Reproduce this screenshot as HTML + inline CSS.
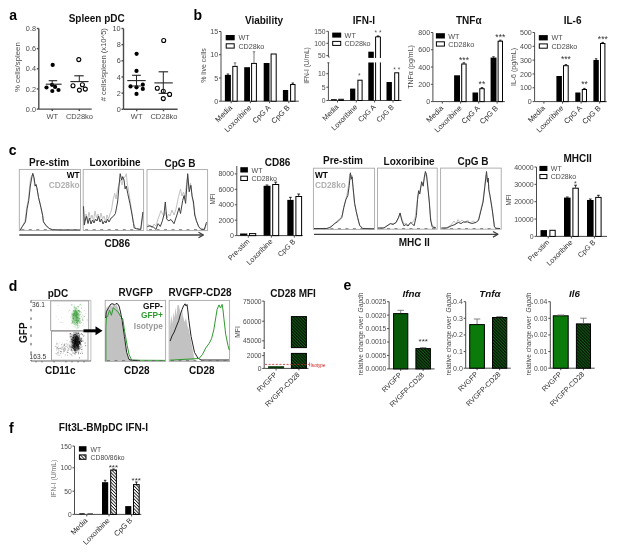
<!DOCTYPE html>
<html><head><meta charset="utf-8"><title>Figure</title>
<style>html,body{margin:0;padding:0;background:#fff;width:619px;height:553px;overflow:hidden}
svg{display:block;filter:blur(0.35px);font-family:"Liberation Sans",sans-serif}</style></head>
<body><svg width="619" height="553" viewBox="0 0 619 553" font-family="Liberation Sans, sans-serif"><defs>
<pattern id="hb" patternUnits="userSpaceOnUse" width="4" height="2.3" patternTransform="rotate(45)">
<rect width="4" height="2.3" fill="#fff"/><rect width="4" height="0.85" fill="#111"/></pattern>
<pattern id="hg" patternUnits="userSpaceOnUse" width="4" height="2.2" patternTransform="rotate(45)">
<rect width="4" height="2.2" fill="#031203"/><rect width="4" height="1.0" fill="#145e16"/></pattern>
<radialGradient id="rgG"><stop offset="0" stop-color="#2a8a2a" stop-opacity="0.6"/><stop offset="0.6" stop-color="#4aa04a" stop-opacity="0.3"/><stop offset="1" stop-color="#5a5" stop-opacity="0"/></radialGradient>
<radialGradient id="rgK"><stop offset="0" stop-color="#000" stop-opacity="0.85"/><stop offset="0.6" stop-color="#222" stop-opacity="0.4"/><stop offset="1" stop-color="#555" stop-opacity="0"/></radialGradient>
</defs><rect width="619" height="553" fill="#fff"/>
<text x="9.2" y="19.9" font-size="14.0" text-anchor="start" font-weight="bold" fill="#000" >a</text>
<text x="193.6" y="20.2" font-size="14.0" text-anchor="start" font-weight="bold" fill="#000" >b</text>
<text x="8.8" y="155" font-size="14.0" text-anchor="start" font-weight="bold" fill="#000" >c</text>
<text x="8.8" y="290.9" font-size="14.0" text-anchor="start" font-weight="bold" fill="#000" >d</text>
<text x="343.4" y="290.3" font-size="14.0" text-anchor="start" font-weight="bold" fill="#000" >e</text>
<text x="9" y="432.5" font-size="14.0" text-anchor="start" font-weight="bold" fill="#000" >f</text>
<text x="96.7" y="21.5" font-size="10" text-anchor="middle" font-weight="bold" fill="#111" >Spleen pDC</text>
<line x1="38.8" y1="28.5" x2="38.8" y2="109.1" stroke="#4a4a4a" stroke-width="1.4" />
<line x1="36.8" y1="109.1" x2="38.8" y2="109.1" stroke="#4a4a4a" stroke-width="1.4" />
<text x="36" y="111.73" font-size="7.3" text-anchor="end" font-weight="normal" fill="#4a4a4a" >0.0</text>
<line x1="36.8" y1="88.95" x2="38.8" y2="88.95" stroke="#4a4a4a" stroke-width="1.4" />
<text x="36" y="91.58" font-size="7.3" text-anchor="end" font-weight="normal" fill="#4a4a4a" >0.2</text>
<line x1="36.8" y1="68.8" x2="38.8" y2="68.8" stroke="#4a4a4a" stroke-width="1.4" />
<text x="36" y="71.43" font-size="7.3" text-anchor="end" font-weight="normal" fill="#4a4a4a" >0.4</text>
<line x1="36.8" y1="48.65" x2="38.8" y2="48.65" stroke="#4a4a4a" stroke-width="1.4" />
<text x="36" y="51.28" font-size="7.3" text-anchor="end" font-weight="normal" fill="#4a4a4a" >0.6</text>
<line x1="36.8" y1="28.5" x2="38.8" y2="28.5" stroke="#4a4a4a" stroke-width="1.4" />
<text x="36" y="31.13" font-size="7.3" text-anchor="end" font-weight="normal" fill="#4a4a4a" >0.8</text>
<line x1="38.8" y1="109.1" x2="91.7" y2="109.1" stroke="#4a4a4a" stroke-width="1.4" />
<line x1="52.3" y1="109.1" x2="52.3" y2="111.1" stroke="#4a4a4a" stroke-width="1.4" />
<line x1="79.3" y1="109.1" x2="79.3" y2="111.1" stroke="#4a4a4a" stroke-width="1.4" />
<text x="52.3" y="118.5" font-size="7.5" text-anchor="middle" font-weight="normal" fill="#4a4a4a" >WT</text>
<text x="79.5" y="118.5" font-size="7.5" text-anchor="middle" font-weight="normal" fill="#4a4a4a" >CD28ko</text>
<text x="19.9" y="67.2" font-size="7.8" text-anchor="middle" font-weight="normal" fill="#4a4a4a" transform="rotate(-90 19.9 67.2)" >% cells/spleen</text>
<circle cx="52.7" cy="64.9" r="2.1" fill="#000"/>
<circle cx="46.5" cy="87.5" r="2.1" fill="#000"/>
<circle cx="52.3" cy="91" r="2.1" fill="#000"/>
<circle cx="58.5" cy="90" r="2.1" fill="#000"/>
<circle cx="55.1" cy="86.9" r="2.1" fill="#000"/>
<circle cx="52" cy="84.8" r="2.1" fill="#000"/>
<circle cx="78.8" cy="59.6" r="2.0" fill="#fff" stroke="#000" stroke-width="1.1"/>
<circle cx="73" cy="85.8" r="2.0" fill="#fff" stroke="#000" stroke-width="1.1"/>
<circle cx="82.4" cy="84.8" r="2.0" fill="#fff" stroke="#000" stroke-width="1.1"/>
<circle cx="79.4" cy="90.1" r="2.0" fill="#fff" stroke="#000" stroke-width="1.1"/>
<circle cx="85.3" cy="89.1" r="2.0" fill="#fff" stroke="#000" stroke-width="1.1"/>
<line x1="45.8" y1="84.2" x2="61.6" y2="84.2" stroke="#222" stroke-width="1.1" />
<line x1="52.2" y1="84.2" x2="52.2" y2="80.7" stroke="#222" stroke-width="1" />
<line x1="48.7" y1="80.7" x2="57.2" y2="80.7" stroke="#222" stroke-width="1.1" />
<line x1="70.4" y1="81.6" x2="88.5" y2="81.6" stroke="#222" stroke-width="1.1" />
<line x1="79.3" y1="81.6" x2="79.3" y2="75.8" stroke="#222" stroke-width="1" />
<line x1="74.3" y1="75.8" x2="83.7" y2="75.8" stroke="#222" stroke-width="1.1" />
<line x1="123.5" y1="28.5" x2="123.5" y2="109.3" stroke="#4a4a4a" stroke-width="1.4" />
<line x1="121.5" y1="109.3" x2="123.5" y2="109.3" stroke="#4a4a4a" stroke-width="1.4" />
<text x="120.7" y="111.93" font-size="7.3" text-anchor="end" font-weight="normal" fill="#4a4a4a" >0</text>
<line x1="121.5" y1="93.14" x2="123.5" y2="93.14" stroke="#4a4a4a" stroke-width="1.4" />
<text x="120.7" y="95.77" font-size="7.3" text-anchor="end" font-weight="normal" fill="#4a4a4a" >2</text>
<line x1="121.5" y1="76.98" x2="123.5" y2="76.98" stroke="#4a4a4a" stroke-width="1.4" />
<text x="120.7" y="79.61" font-size="7.3" text-anchor="end" font-weight="normal" fill="#4a4a4a" >4</text>
<line x1="121.5" y1="60.82" x2="123.5" y2="60.82" stroke="#4a4a4a" stroke-width="1.4" />
<text x="120.7" y="63.45" font-size="7.3" text-anchor="end" font-weight="normal" fill="#4a4a4a" >6</text>
<line x1="121.5" y1="44.66" x2="123.5" y2="44.66" stroke="#4a4a4a" stroke-width="1.4" />
<text x="120.7" y="47.29" font-size="7.3" text-anchor="end" font-weight="normal" fill="#4a4a4a" >8</text>
<line x1="121.5" y1="28.5" x2="123.5" y2="28.5" stroke="#4a4a4a" stroke-width="1.4" />
<text x="120.7" y="31.13" font-size="7.3" text-anchor="end" font-weight="normal" fill="#4a4a4a" >10</text>
<line x1="123.5" y1="109.3" x2="177.6" y2="109.3" stroke="#4a4a4a" stroke-width="1.4" />
<line x1="136.7" y1="109.3" x2="136.7" y2="111.3" stroke="#4a4a4a" stroke-width="1.4" />
<line x1="163.5" y1="109.3" x2="163.5" y2="111.3" stroke="#4a4a4a" stroke-width="1.4" />
<text x="136.7" y="118.5" font-size="7.5" text-anchor="middle" font-weight="normal" fill="#4a4a4a" >WT</text>
<text x="164" y="118.5" font-size="7.5" text-anchor="middle" font-weight="normal" fill="#4a4a4a" >CD28ko</text>
<text x="105.6" y="64.7" font-size="7.6" text-anchor="middle" font-weight="normal" fill="#4a4a4a" transform="rotate(-90 105.6 64.7)" ># cells/spleen (x10^5)</text>
<circle cx="136.6" cy="53.8" r="2.1" fill="#000"/>
<circle cx="136.5" cy="70.9" r="2.1" fill="#000"/>
<circle cx="130.5" cy="86.4" r="2.1" fill="#000"/>
<circle cx="136.5" cy="87.3" r="2.1" fill="#000"/>
<circle cx="142.8" cy="84.7" r="2.1" fill="#000"/>
<circle cx="142.8" cy="88.9" r="2.1" fill="#000"/>
<circle cx="136.5" cy="93.9" r="2.1" fill="#000"/>
<circle cx="163.7" cy="40.5" r="2.0" fill="#fff" stroke="#000" stroke-width="1.1"/>
<circle cx="157.3" cy="88.3" r="2.0" fill="#fff" stroke="#000" stroke-width="1.1"/>
<circle cx="163.3" cy="91.2" r="2.0" fill="#fff" stroke="#000" stroke-width="1.1"/>
<circle cx="169.6" cy="94.4" r="2.0" fill="#fff" stroke="#000" stroke-width="1.1"/>
<circle cx="163.3" cy="98.6" r="2.0" fill="#fff" stroke="#000" stroke-width="1.1"/>
<line x1="127.3" y1="80.6" x2="145.7" y2="80.6" stroke="#222" stroke-width="1.1" />
<line x1="136.5" y1="80.6" x2="136.5" y2="75.3" stroke="#222" stroke-width="1" />
<line x1="132.1" y1="75.3" x2="140.8" y2="75.3" stroke="#222" stroke-width="1.1" />
<line x1="136.5" y1="80.6" x2="136.5" y2="86" stroke="#222" stroke-width="1" />
<line x1="132.1" y1="86" x2="140.8" y2="86" stroke="#222" stroke-width="1.0" />
<line x1="154.4" y1="82.9" x2="172.8" y2="82.9" stroke="#222" stroke-width="1.1" />
<line x1="163.3" y1="71.8" x2="163.3" y2="93.4" stroke="#222" stroke-width="1" />
<line x1="158.6" y1="71.8" x2="168.1" y2="71.8" stroke="#222" stroke-width="1.1" />
<line x1="158.6" y1="93.4" x2="168.1" y2="93.4" stroke="#222" stroke-width="1.0" />
<line x1="221" y1="31.5" x2="221" y2="101.2" stroke="#4a4a4a" stroke-width="1.0" />
<line x1="219" y1="101.2" x2="221" y2="101.2" stroke="#4a4a4a" stroke-width="1.0" />
<text x="218.2" y="103.79" font-size="7.2" text-anchor="end" font-weight="normal" fill="#4a4a4a" >0</text>
<line x1="219" y1="77.97" x2="221" y2="77.97" stroke="#4a4a4a" stroke-width="1.0" />
<text x="218.2" y="80.56" font-size="7.2" text-anchor="end" font-weight="normal" fill="#4a4a4a" >5</text>
<line x1="219" y1="54.73" x2="221" y2="54.73" stroke="#4a4a4a" stroke-width="1.0" />
<text x="218.2" y="57.33" font-size="7.2" text-anchor="end" font-weight="normal" fill="#4a4a4a" >10</text>
<line x1="219" y1="31.5" x2="221" y2="31.5" stroke="#4a4a4a" stroke-width="1.0" />
<text x="218.2" y="34.09" font-size="7.2" text-anchor="end" font-weight="normal" fill="#4a4a4a" >15</text>
<line x1="221" y1="101.2" x2="298.8" y2="101.2" stroke="#4a4a4a" stroke-width="1.0" />
<line x1="231.2" y1="101.2" x2="231.2" y2="103.2" stroke="#4a4a4a" stroke-width="1.0" />
<line x1="250.4" y1="101.2" x2="250.4" y2="103.2" stroke="#4a4a4a" stroke-width="1.0" />
<line x1="269.6" y1="101.2" x2="269.6" y2="103.2" stroke="#4a4a4a" stroke-width="1.0" />
<line x1="288.8" y1="101.2" x2="288.8" y2="103.2" stroke="#4a4a4a" stroke-width="1.0" />
<rect x="224.9" y="74.9" width="6" height="26.3" fill="#000" stroke="none" stroke-width="1.0" />
<rect x="232.8" y="66.4" width="4.4" height="34.8" fill="#fff" stroke="#000" stroke-width="1.0" />
<rect x="244.2" y="67.2" width="5.8" height="34" fill="#000" stroke="none" stroke-width="1.0" />
<rect x="251.6" y="63.4" width="4.8" height="37.8" fill="#fff" stroke="#000" stroke-width="1.0" />
<rect x="263.7" y="63" width="5.8" height="38.2" fill="#000" stroke="none" stroke-width="1.0" />
<rect x="271.1" y="54" width="5.1" height="47.2" fill="#fff" stroke="#000" stroke-width="1.0" />
<rect x="282.9" y="90" width="5.3" height="11.2" fill="#000" stroke="none" stroke-width="1.0" />
<rect x="290.6" y="84.5" width="4.4" height="16.7" fill="#fff" stroke="#000" stroke-width="1.0" />
<line x1="227.9" y1="74.9" x2="227.9" y2="74" stroke="#000" stroke-width="0.8" />
<line x1="226.65" y1="74" x2="229.15" y2="74" stroke="#000" stroke-width="0.8" />
<line x1="235" y1="65.9" x2="235" y2="62.9" stroke="#555" stroke-width="0.8" />
<line x1="233.75" y1="62.9" x2="236.25" y2="62.9" stroke="#555" stroke-width="0.8" />
<line x1="254" y1="62.9" x2="254" y2="51.8" stroke="#555" stroke-width="0.8" />
<line x1="252.75" y1="51.8" x2="255.25" y2="51.8" stroke="#555" stroke-width="0.8" />
<line x1="292.8" y1="84" x2="292.8" y2="83" stroke="#000" stroke-width="0.8" />
<line x1="291.55" y1="83" x2="294.05" y2="83" stroke="#000" stroke-width="0.8" />
<text x="264" y="23.5" font-size="10" text-anchor="middle" font-weight="bold" fill="#111" >Viability</text>
<text x="205.5" y="65.5" font-size="7.0" text-anchor="middle" font-weight="normal" fill="#4a4a4a" transform="rotate(-90 205.5 65.5)" >% live cells</text>
<rect x="225.7" y="35" width="9" height="5.3" fill="#000" stroke="none" stroke-width="1.0" />
<rect x="226.2" y="43.8" width="8" height="4.3" fill="#fff" stroke="#000" stroke-width="1" />
<text x="238.4" y="40.3" font-size="7.2" text-anchor="start" font-weight="normal" fill="#4a4a4a" >WT</text>
<text x="238.4" y="48.6" font-size="7.2" text-anchor="start" font-weight="normal" fill="#4a4a4a" >CD28ko</text>
<text x="232.7" y="108.2" font-size="7.5" text-anchor="end" font-weight="normal" fill="#2a2a2a" transform="rotate(-45 232.7 108.2)" >Media</text>
<text x="251.9" y="108.2" font-size="7.5" text-anchor="end" font-weight="normal" fill="#2a2a2a" transform="rotate(-45 251.9 108.2)" >Loxoribine</text>
<text x="271.1" y="108.2" font-size="7.5" text-anchor="end" font-weight="normal" fill="#2a2a2a" transform="rotate(-45 271.1 108.2)" >CpG A</text>
<text x="290.3" y="108.2" font-size="7.5" text-anchor="end" font-weight="normal" fill="#2a2a2a" transform="rotate(-45 290.3 108.2)" >CpG B</text>
<line x1="328.4" y1="31.3" x2="328.4" y2="57.1" stroke="#4a4a4a" stroke-width="1.0" />
<line x1="328.4" y1="57.1" x2="329.6" y2="57.1" stroke="#4a4a4a" stroke-width="1.0" />
<line x1="328.4" y1="62.8" x2="328.4" y2="100.5" stroke="#4a4a4a" stroke-width="1.0" />
<line x1="327.4" y1="62.8" x2="329.4" y2="62.8" stroke="#4a4a4a" stroke-width="1.0" />
<line x1="326.4" y1="31.3" x2="328.4" y2="31.3" stroke="#4a4a4a" stroke-width="1.0" />
<text x="325.6" y="33.7" font-size="6.8" text-anchor="end" font-weight="normal" fill="#4a4a4a" >150</text>
<line x1="326.4" y1="43.3" x2="328.4" y2="43.3" stroke="#4a4a4a" stroke-width="1.0" />
<text x="325.6" y="45.7" font-size="6.8" text-anchor="end" font-weight="normal" fill="#4a4a4a" >100</text>
<line x1="326.4" y1="55.6" x2="328.4" y2="55.6" stroke="#4a4a4a" stroke-width="1.0" />
<text x="325.6" y="58" font-size="6.8" text-anchor="end" font-weight="normal" fill="#4a4a4a" >50</text>
<line x1="326.4" y1="73.7" x2="328.4" y2="73.7" stroke="#4a4a4a" stroke-width="1.0" />
<text x="325.6" y="76.1" font-size="6.8" text-anchor="end" font-weight="normal" fill="#4a4a4a" >10</text>
<line x1="326.4" y1="87.2" x2="328.4" y2="87.2" stroke="#4a4a4a" stroke-width="1.0" />
<text x="325.6" y="89.6" font-size="6.8" text-anchor="end" font-weight="normal" fill="#4a4a4a" >5</text>
<line x1="326.4" y1="100.5" x2="328.4" y2="100.5" stroke="#4a4a4a" stroke-width="1.0" />
<text x="325.6" y="102.9" font-size="6.8" text-anchor="end" font-weight="normal" fill="#4a4a4a" >0</text>
<line x1="328.4" y1="100.5" x2="401.5" y2="100.5" stroke="#4a4a4a" stroke-width="1.0" />
<line x1="337.5" y1="100.5" x2="337.5" y2="102.5" stroke="#4a4a4a" stroke-width="1.0" />
<line x1="356.3" y1="100.5" x2="356.3" y2="102.5" stroke="#4a4a4a" stroke-width="1.0" />
<line x1="374.6" y1="100.5" x2="374.6" y2="102.5" stroke="#4a4a4a" stroke-width="1.0" />
<line x1="393" y1="100.5" x2="393" y2="102.5" stroke="#4a4a4a" stroke-width="1.0" />
<rect x="331" y="99.2" width="5.8" height="1.3" fill="#000" stroke="none" stroke-width="1.0" />
<rect x="338.8" y="99.3" width="4.5" height="1.2" fill="#fff" stroke="#000" stroke-width="1.0" />
<rect x="350.1" y="88.6" width="5.2" height="11.9" fill="#000" stroke="none" stroke-width="1.0" />
<rect x="357.9" y="80.2" width="4.2" height="20.3" fill="#fff" stroke="#000" stroke-width="1.0" />
<rect x="368.3" y="51.7" width="5.5" height="6.2" fill="#000" stroke="none" stroke-width="1.0" />
<rect x="368.3" y="62.5" width="5.5" height="38" fill="#000" stroke="none" stroke-width="1.0" />
<path d="M375.6,58 V36.8 H380.4 V58 M375.6,62.4 V100.5 M380.4,62.4 V100.5" fill="none" stroke="#000" stroke-width="1"/>
<rect x="386.5" y="82" width="5.4" height="18.5" fill="#000" stroke="none" stroke-width="1.0" />
<rect x="394.7" y="72.8" width="4" height="27.7" fill="#fff" stroke="#000" stroke-width="1.0" />
<line x1="378" y1="36.8" x2="378" y2="36" stroke="#000" stroke-width="0.9" />
<line x1="376.75" y1="36" x2="379.25" y2="36" stroke="#000" stroke-width="0.9" />
<text x="359.2" y="77.5" font-size="6.5" text-anchor="middle" font-weight="normal" fill="#555" >*</text>
<text x="378" y="34.5" font-size="6.5" text-anchor="middle" font-weight="normal" fill="#555" >* *</text>
<text x="396.8" y="72" font-size="6.5" text-anchor="middle" font-weight="normal" fill="#555" >* *</text>
<text x="363.9" y="23.5" font-size="10" text-anchor="middle" font-weight="bold" fill="#111" >IFN-I</text>
<text x="309.3" y="65.5" font-size="6.6" text-anchor="middle" font-weight="normal" fill="#4a4a4a" transform="rotate(-90 309.3 65.5)" >IFN-I (U/mL)</text>
<rect x="332.2" y="32.6" width="9" height="5" fill="#000" stroke="none" stroke-width="1.0" />
<rect x="332.7" y="41.4" width="8" height="4" fill="#fff" stroke="#000" stroke-width="1" />
<text x="344.6" y="37.6" font-size="7.2" text-anchor="start" font-weight="normal" fill="#4a4a4a" >WT</text>
<text x="344.6" y="45.9" font-size="7.2" text-anchor="start" font-weight="normal" fill="#4a4a4a" >CD28ko</text>
<text x="339" y="107.5" font-size="7.2" text-anchor="end" font-weight="normal" fill="#2a2a2a" transform="rotate(-45 339 107.5)" >Media</text>
<text x="357.8" y="107.5" font-size="7.2" text-anchor="end" font-weight="normal" fill="#2a2a2a" transform="rotate(-45 357.8 107.5)" >Loxoribine</text>
<text x="376.1" y="107.5" font-size="7.2" text-anchor="end" font-weight="normal" fill="#2a2a2a" transform="rotate(-45 376.1 107.5)" >CpG A</text>
<text x="394.5" y="107.5" font-size="7.2" text-anchor="end" font-weight="normal" fill="#2a2a2a" transform="rotate(-45 394.5 107.5)" >CpG B</text>
<line x1="432.9" y1="32.5" x2="432.9" y2="101.6" stroke="#4a4a4a" stroke-width="1.0" />
<line x1="430.9" y1="101.6" x2="432.9" y2="101.6" stroke="#4a4a4a" stroke-width="1.0" />
<text x="430.1" y="104.16" font-size="7.1" text-anchor="end" font-weight="normal" fill="#4a4a4a" >0</text>
<line x1="430.9" y1="84.32" x2="432.9" y2="84.32" stroke="#4a4a4a" stroke-width="1.0" />
<text x="430.1" y="86.88" font-size="7.1" text-anchor="end" font-weight="normal" fill="#4a4a4a" >200</text>
<line x1="430.9" y1="67.05" x2="432.9" y2="67.05" stroke="#4a4a4a" stroke-width="1.0" />
<text x="430.1" y="69.61" font-size="7.1" text-anchor="end" font-weight="normal" fill="#4a4a4a" >400</text>
<line x1="430.9" y1="49.77" x2="432.9" y2="49.77" stroke="#4a4a4a" stroke-width="1.0" />
<text x="430.1" y="52.33" font-size="7.1" text-anchor="end" font-weight="normal" fill="#4a4a4a" >600</text>
<line x1="430.9" y1="32.5" x2="432.9" y2="32.5" stroke="#4a4a4a" stroke-width="1.0" />
<text x="430.1" y="35.06" font-size="7.1" text-anchor="end" font-weight="normal" fill="#4a4a4a" >800</text>
<line x1="432.9" y1="101.6" x2="504.8" y2="101.6" stroke="#4a4a4a" stroke-width="1.0" />
<line x1="442.3" y1="101.6" x2="442.3" y2="103.6" stroke="#4a4a4a" stroke-width="1.0" />
<line x1="460.6" y1="101.6" x2="460.6" y2="103.6" stroke="#4a4a4a" stroke-width="1.0" />
<line x1="478.7" y1="101.6" x2="478.7" y2="103.6" stroke="#4a4a4a" stroke-width="1.0" />
<line x1="497.1" y1="101.6" x2="497.1" y2="103.6" stroke="#4a4a4a" stroke-width="1.0" />
<rect x="454.1" y="75.3" width="5.9" height="26.3" fill="#000" stroke="none" stroke-width="1.0" />
<rect x="461.7" y="64" width="4.4" height="37.6" fill="#fff" stroke="#000" stroke-width="1.0" />
<rect x="472.5" y="92.5" width="5.6" height="9.1" fill="#000" stroke="none" stroke-width="1.0" />
<rect x="479.8" y="88.7" width="4.4" height="12.9" fill="#fff" stroke="#000" stroke-width="1.0" />
<rect x="490.6" y="57.6" width="5.9" height="44" fill="#000" stroke="none" stroke-width="1.0" />
<rect x="498.1" y="41.2" width="4.4" height="60.4" fill="#fff" stroke="#000" stroke-width="1.0" />
<line x1="463.9" y1="63.5" x2="463.9" y2="62.8" stroke="#000" stroke-width="0.8" />
<line x1="462.65" y1="62.8" x2="465.15" y2="62.8" stroke="#000" stroke-width="0.8" />
<line x1="482" y1="88.2" x2="482" y2="87.6" stroke="#000" stroke-width="0.8" />
<line x1="480.75" y1="87.6" x2="483.25" y2="87.6" stroke="#000" stroke-width="0.8" />
<line x1="493.5" y1="57.6" x2="493.5" y2="56.8" stroke="#000" stroke-width="0.8" />
<line x1="492.25" y1="56.8" x2="494.75" y2="56.8" stroke="#000" stroke-width="0.8" />
<line x1="500.3" y1="40.7" x2="500.3" y2="40.2" stroke="#000" stroke-width="0.8" />
<line x1="499.05" y1="40.2" x2="501.55" y2="40.2" stroke="#000" stroke-width="0.8" />
<text x="464" y="63.47" font-size="8.5" text-anchor="middle" font-weight="normal" fill="#333" letter-spacing="0">***</text>
<text x="481.9" y="87.08" font-size="8.5" text-anchor="middle" font-weight="normal" fill="#333" letter-spacing="0">**</text>
<text x="500.3" y="40.47" font-size="8.5" text-anchor="middle" font-weight="normal" fill="#333" letter-spacing="0">***</text>
<text x="468.8" y="23.5" font-size="10" text-anchor="middle" font-weight="bold" fill="#111" >TNFα</text>
<text x="413" y="67" font-size="7.0" text-anchor="middle" font-weight="normal" fill="#4a4a4a" transform="rotate(-90 413 67)" >TNFα (pg/mL)</text>
<rect x="435.9" y="33.2" width="9" height="5.3" fill="#000" stroke="none" stroke-width="1.0" />
<rect x="436.4" y="41.8" width="8" height="4.3" fill="#fff" stroke="#000" stroke-width="1" />
<text x="448.2" y="38.5" font-size="7.2" text-anchor="start" font-weight="normal" fill="#4a4a4a" >WT</text>
<text x="448.2" y="46.6" font-size="7.2" text-anchor="start" font-weight="normal" fill="#4a4a4a" >CD28ko</text>
<text x="443.8" y="108.6" font-size="7.5" text-anchor="end" font-weight="normal" fill="#2a2a2a" transform="rotate(-45 443.8 108.6)" >Media</text>
<text x="462.1" y="108.6" font-size="7.5" text-anchor="end" font-weight="normal" fill="#2a2a2a" transform="rotate(-45 462.1 108.6)" >Loxoribine</text>
<text x="480.2" y="108.6" font-size="7.5" text-anchor="end" font-weight="normal" fill="#2a2a2a" transform="rotate(-45 480.2 108.6)" >CpG A</text>
<text x="498.6" y="108.6" font-size="7.5" text-anchor="end" font-weight="normal" fill="#2a2a2a" transform="rotate(-45 498.6 108.6)" >CpG B</text>
<line x1="534.6" y1="32.5" x2="534.6" y2="101.6" stroke="#4a4a4a" stroke-width="1.0" />
<line x1="532.6" y1="101.6" x2="534.6" y2="101.6" stroke="#4a4a4a" stroke-width="1.0" />
<text x="531.8" y="104.16" font-size="7.1" text-anchor="end" font-weight="normal" fill="#4a4a4a" >0</text>
<line x1="532.6" y1="87.78" x2="534.6" y2="87.78" stroke="#4a4a4a" stroke-width="1.0" />
<text x="531.8" y="90.34" font-size="7.1" text-anchor="end" font-weight="normal" fill="#4a4a4a" >100</text>
<line x1="532.6" y1="73.96" x2="534.6" y2="73.96" stroke="#4a4a4a" stroke-width="1.0" />
<text x="531.8" y="76.52" font-size="7.1" text-anchor="end" font-weight="normal" fill="#4a4a4a" >200</text>
<line x1="532.6" y1="60.14" x2="534.6" y2="60.14" stroke="#4a4a4a" stroke-width="1.0" />
<text x="531.8" y="62.7" font-size="7.1" text-anchor="end" font-weight="normal" fill="#4a4a4a" >300</text>
<line x1="532.6" y1="46.32" x2="534.6" y2="46.32" stroke="#4a4a4a" stroke-width="1.0" />
<text x="531.8" y="48.88" font-size="7.1" text-anchor="end" font-weight="normal" fill="#4a4a4a" >400</text>
<line x1="532.6" y1="32.5" x2="534.6" y2="32.5" stroke="#4a4a4a" stroke-width="1.0" />
<text x="531.8" y="35.06" font-size="7.1" text-anchor="end" font-weight="normal" fill="#4a4a4a" >500</text>
<line x1="534.6" y1="101.6" x2="606.8" y2="101.6" stroke="#4a4a4a" stroke-width="1.0" />
<line x1="543.9" y1="101.6" x2="543.9" y2="103.6" stroke="#4a4a4a" stroke-width="1.0" />
<line x1="562.5" y1="101.6" x2="562.5" y2="103.6" stroke="#4a4a4a" stroke-width="1.0" />
<line x1="581.1" y1="101.6" x2="581.1" y2="103.6" stroke="#4a4a4a" stroke-width="1.0" />
<line x1="599.7" y1="101.6" x2="599.7" y2="103.6" stroke="#4a4a4a" stroke-width="1.0" />
<rect x="556.4" y="76" width="5.5" height="25.6" fill="#000" stroke="none" stroke-width="1.0" />
<rect x="563.5" y="65.7" width="4.7" height="35.9" fill="#fff" stroke="#000" stroke-width="1.0" />
<rect x="575.3" y="92.5" width="5.1" height="9.1" fill="#000" stroke="none" stroke-width="1.0" />
<rect x="582.3" y="89.5" width="4.2" height="12.1" fill="#fff" stroke="#000" stroke-width="1.0" />
<rect x="593.4" y="60" width="5.4" height="41.6" fill="#000" stroke="none" stroke-width="1.0" />
<rect x="600.5" y="43.5" width="4.4" height="58.1" fill="#fff" stroke="#000" stroke-width="1.0" />
<line x1="565.9" y1="65.2" x2="565.9" y2="64.6" stroke="#000" stroke-width="0.8" />
<line x1="564.65" y1="64.6" x2="567.15" y2="64.6" stroke="#000" stroke-width="0.8" />
<line x1="584.4" y1="89" x2="584.4" y2="88.4" stroke="#000" stroke-width="0.8" />
<line x1="583.15" y1="88.4" x2="585.65" y2="88.4" stroke="#000" stroke-width="0.8" />
<line x1="596.1" y1="60" x2="596.1" y2="58.8" stroke="#000" stroke-width="0.8" />
<line x1="594.85" y1="58.8" x2="597.35" y2="58.8" stroke="#000" stroke-width="0.8" />
<line x1="602.7" y1="43" x2="602.7" y2="42.4" stroke="#000" stroke-width="0.8" />
<line x1="601.45" y1="42.4" x2="603.95" y2="42.4" stroke="#000" stroke-width="0.8" />
<text x="565.9" y="62.28" font-size="8.5" text-anchor="middle" font-weight="normal" fill="#333" letter-spacing="0">***</text>
<text x="584.5" y="87.47" font-size="8.5" text-anchor="middle" font-weight="normal" fill="#333" letter-spacing="0">**</text>
<text x="602.8" y="42.28" font-size="8.5" text-anchor="middle" font-weight="normal" fill="#333" letter-spacing="0">***</text>
<text x="572.6" y="23.5" font-size="10" text-anchor="middle" font-weight="bold" fill="#111" >IL-6</text>
<text x="516" y="67" font-size="7.0" text-anchor="middle" font-weight="normal" fill="#4a4a4a" transform="rotate(-90 516 67)" >IL-6 (pg/mL)</text>
<rect x="538.8" y="35.1" width="9" height="5.3" fill="#000" stroke="none" stroke-width="1.0" />
<rect x="539.3" y="43.9" width="8" height="4.3" fill="#fff" stroke="#000" stroke-width="1" />
<text x="551.4" y="40.4" font-size="7.2" text-anchor="start" font-weight="normal" fill="#4a4a4a" >WT</text>
<text x="551.4" y="48.7" font-size="7.2" text-anchor="start" font-weight="normal" fill="#4a4a4a" >CD28ko</text>
<text x="545.4" y="108.6" font-size="7.5" text-anchor="end" font-weight="normal" fill="#2a2a2a" transform="rotate(-45 545.4 108.6)" >Media</text>
<text x="564" y="108.6" font-size="7.5" text-anchor="end" font-weight="normal" fill="#2a2a2a" transform="rotate(-45 564 108.6)" >Loxoribine</text>
<text x="582.6" y="108.6" font-size="7.5" text-anchor="end" font-weight="normal" fill="#2a2a2a" transform="rotate(-45 582.6 108.6)" >CpG A</text>
<text x="601.2" y="108.6" font-size="7.5" text-anchor="end" font-weight="normal" fill="#2a2a2a" transform="rotate(-45 601.2 108.6)" >CpG B</text>
<rect x="19.3" y="169.4" width="61.2" height="61" fill="none" stroke="#a8a8a8" stroke-width="0.9" />
<rect x="83.2" y="169.4" width="60.4" height="61.1" fill="none" stroke="#a8a8a8" stroke-width="0.9" />
<rect x="147" y="169.6" width="60.6" height="61" fill="none" stroke="#a8a8a8" stroke-width="0.9" />
<line x1="21.3" y1="229.6" x2="78.5" y2="229.6" stroke="#666" stroke-width="0.8" stroke-dasharray="3,4.5"/>
<line x1="85.2" y1="229.6" x2="141.6" y2="229.6" stroke="#666" stroke-width="0.8" stroke-dasharray="3,4.5"/>
<line x1="149" y1="229.6" x2="205.6" y2="229.6" stroke="#666" stroke-width="0.8" stroke-dasharray="3,4.5"/>
<text x="49.1" y="166.4" font-size="10" text-anchor="middle" font-weight="bold" fill="#111" >Pre-stim</text>
<text x="115" y="166.1" font-size="10" text-anchor="middle" font-weight="bold" fill="#111" >Loxoribine</text>
<text x="180" y="166.5" font-size="10" text-anchor="middle" font-weight="bold" fill="#111" >CpG B</text>
<line x1="19.3" y1="235" x2="203" y2="235" stroke="#404040" stroke-width="1.3" />
<polyline points="198.5,232.2 203.5,235 198.5,237.8" fill="none" stroke="#404040" stroke-width="1.3" stroke-linejoin="round" />
<text x="117.2" y="246.7" font-size="10" text-anchor="middle" font-weight="bold" fill="#111" >CD86</text>
<polyline points="20.1,230.3 22,227 25,221 26.8,207 28.5,199 30,183 30.5,178.7 31.5,176 32.5,174.5 33.8,179 35,186.5 36,185 37,189 38.8,198 41,208 42.8,216 43.6,222 46,226 49,228.6 53,229.8 80,230.2" fill="none" stroke="#c2c2c2" stroke-width="1.0" stroke-linejoin="round" />
<polyline points="83.5,210 84.5,222 86,214 87.5,220 89,212 90.5,219 92,215 93.5,221 95,211 96.5,218 98,214 99.5,220 101,213 102.5,219 104,216 105.5,222 107,215 108.5,219 110,214 111.5,210 113,200 114.7,193.3 116,199 117.5,190 119,184 120.5,180 122,185 123.5,178 125,177 126.3,173.7 127.2,183 128.5,190 130,200 131.5,210 133,220 134.5,226 136,228.5 141,229.5 142.9,215" fill="none" stroke="#c2c2c2" stroke-width="1.0" stroke-linejoin="round" />
<polyline points="147.2,224 150,226 152,228 154,224 156,226 158,219 159.5,215 161,210.6 162.5,214 164,216 165.5,212 167,218 168.5,214 170,216 172,210 174,215 176,209 178,199 180.5,189 182,196 183.5,192 185,197 186.5,184 187.7,176 189,189 190.5,183 192,196 193.5,205 195,214 196.5,221 198.5,226 201,229 204.4,229.4 206.5,224" fill="none" stroke="#c2c2c2" stroke-width="1.0" stroke-linejoin="round" />
<polyline points="20.1,230.3 22.2,226.7 25.5,221.8 27.1,208.8 28.7,200.7 30.3,186 32,176.3 32.8,173.3 34.1,177.9 35.2,186 36,184.4 36.9,187.7 38.5,197.4 40.9,207.2 42.6,215.3 43.4,221.8 45.8,225.1 49.1,228.4 52.3,229.7 60,230 80,230" fill="none" stroke="#404040" stroke-width="1.0" stroke-linejoin="round" />
<polyline points="83.5,206.3 84.3,225 85.5,219 86.5,216.4 88,223.6 89.5,218 91,224 92.5,220 94,223 95.5,219 97,221 98.5,216 100,222 101.5,219 103,224 104.5,221 106,223 107.5,219 109,222 111.1,218 113.3,216.4 115.4,213.5 117.6,202 119,186 120.2,173.7 121.7,180.2 122.7,176.6 124.1,180.2 125.1,188.9 126.3,186 127.7,193.3 129.9,203.4 132.1,215 133.5,223.6 134.2,228 136.4,228.7 140.7,229.4 142.9,212" fill="none" stroke="#404040" stroke-width="1.0" stroke-linejoin="round" />
<polyline points="147.2,226.5 150,225.8 153.7,227.3 155.9,229.4 158.1,223.7 160.3,226.5 162.4,220.8 163.9,215 165.3,202 166.8,219.3 168.9,220.8 171,219.5 174,223.7 176.9,215 179.1,207.7 180.5,213.5 182.7,200.5 184.1,195.5 185.6,203.4 187.7,173.7 189.2,191.8 190.9,185.3 192.1,196.2 193.5,202 194.7,215 196.4,220.8 198.6,226.5 200.8,229.2 204.4,229.4 206.5,222.2" fill="none" stroke="#404040" stroke-width="1.0" stroke-linejoin="round" />
<text x="79.6" y="178.2" font-size="8.3" text-anchor="end" font-weight="bold" fill="#000" >WT</text>
<text x="79.6" y="187.5" font-size="8.3" text-anchor="end" font-weight="bold" fill="#b0b0b0" >CD28ko</text>
<line x1="236.8" y1="173.9" x2="236.8" y2="235.6" stroke="#4a4a4a" stroke-width="1.0" />
<line x1="234.8" y1="235.6" x2="236.8" y2="235.6" stroke="#4a4a4a" stroke-width="1.0" />
<text x="234" y="238.12" font-size="7.0" text-anchor="end" font-weight="normal" fill="#4a4a4a" >0</text>
<line x1="234.8" y1="220.18" x2="236.8" y2="220.18" stroke="#4a4a4a" stroke-width="1.0" />
<text x="234" y="222.7" font-size="7.0" text-anchor="end" font-weight="normal" fill="#4a4a4a" >2000</text>
<line x1="234.8" y1="204.75" x2="236.8" y2="204.75" stroke="#4a4a4a" stroke-width="1.0" />
<text x="234" y="207.27" font-size="7.0" text-anchor="end" font-weight="normal" fill="#4a4a4a" >4000</text>
<line x1="234.8" y1="189.32" x2="236.8" y2="189.32" stroke="#4a4a4a" stroke-width="1.0" />
<text x="234" y="191.84" font-size="7.0" text-anchor="end" font-weight="normal" fill="#4a4a4a" >6000</text>
<line x1="234.8" y1="173.9" x2="236.8" y2="173.9" stroke="#4a4a4a" stroke-width="1.0" />
<text x="234" y="176.42" font-size="7.0" text-anchor="end" font-weight="normal" fill="#4a4a4a" >8000</text>
<line x1="236.8" y1="166.1" x2="236.8" y2="173.9" stroke="#4a4a4a" stroke-width="1.0" />
<line x1="236.8" y1="235.6" x2="302.8" y2="235.6" stroke="#4a4a4a" stroke-width="1.0" />
<line x1="248.3" y1="235.6" x2="248.3" y2="237.6" stroke="#4a4a4a" stroke-width="1.0" />
<line x1="271.4" y1="235.6" x2="271.4" y2="237.6" stroke="#4a4a4a" stroke-width="1.0" />
<line x1="294.3" y1="235.6" x2="294.3" y2="237.6" stroke="#4a4a4a" stroke-width="1.0" />
<rect x="240.1" y="233.5" width="7.2" height="2.1" fill="#000" stroke="none" stroke-width="1.0" />
<rect x="249.5" y="233.6" width="6.2" height="2" fill="#fff" stroke="#000" stroke-width="1.0" />
<rect x="263.6" y="185.8" width="6.9" height="49.8" fill="#000" stroke="none" stroke-width="1.0" />
<rect x="272.7" y="184.5" width="6" height="51.1" fill="#fff" stroke="#000" stroke-width="1.0" />
<rect x="287.3" y="199.9" width="6.3" height="35.7" fill="#000" stroke="none" stroke-width="1.0" />
<rect x="295.9" y="196.5" width="5.7" height="39.1" fill="#fff" stroke="#000" stroke-width="1.0" />
<line x1="275.7" y1="184" x2="275.7" y2="182.1" stroke="#000" stroke-width="0.8" />
<line x1="274.3" y1="182.1" x2="277.1" y2="182.1" stroke="#000" stroke-width="0.8" />
<line x1="290.4" y1="199.9" x2="290.4" y2="197.3" stroke="#000" stroke-width="0.8" />
<line x1="289" y1="197.3" x2="291.8" y2="197.3" stroke="#000" stroke-width="0.8" />
<line x1="298.7" y1="196" x2="298.7" y2="194" stroke="#000" stroke-width="0.8" />
<line x1="297.3" y1="194" x2="300.1" y2="194" stroke="#000" stroke-width="0.8" />
<line x1="267" y1="185.8" x2="267" y2="185" stroke="#000" stroke-width="0.8" />
<line x1="265.6" y1="185" x2="268.4" y2="185" stroke="#000" stroke-width="0.8" />
<text x="277.6" y="166.3" font-size="10" text-anchor="middle" font-weight="bold" fill="#111" >CD86</text>
<rect x="240.3" y="167.2" width="7.6" height="5.3" fill="#000" stroke="none" stroke-width="1.0" />
<rect x="240.8" y="176.2" width="6.6" height="4.3" fill="#fff" stroke="#000" stroke-width="1" />
<text x="251.6" y="172.5" font-size="7.0" text-anchor="start" font-weight="normal" fill="#4a4a4a" >WT</text>
<text x="251.6" y="181" font-size="7.0" text-anchor="start" font-weight="normal" fill="#4a4a4a" >CD28ko</text>
<text x="214.6" y="199" font-size="6.5" text-anchor="middle" font-weight="normal" fill="#4a4a4a" transform="rotate(-90 214.6 199)" >MFI</text>
<text x="249.9" y="242" font-size="7.2" text-anchor="end" font-weight="normal" fill="#2a2a2a" transform="rotate(-45 249.9 242)" >Pre-stim</text>
<text x="273" y="242" font-size="7.2" text-anchor="end" font-weight="normal" fill="#2a2a2a" transform="rotate(-45 273 242)" >Loxoribine</text>
<text x="295.9" y="242" font-size="7.2" text-anchor="end" font-weight="normal" fill="#2a2a2a" transform="rotate(-45 295.9 242)" >CpG B</text>
<rect x="313.4" y="168.2" width="61.2" height="61.2" fill="none" stroke="#a8a8a8" stroke-width="0.9" />
<rect x="377.5" y="168.1" width="59.7" height="61.1" fill="none" stroke="#a8a8a8" stroke-width="0.9" />
<rect x="440.6" y="168.1" width="60.6" height="61.1" fill="none" stroke="#a8a8a8" stroke-width="0.9" />
<line x1="315.4" y1="228.6" x2="372.6" y2="228.6" stroke="#666" stroke-width="0.8" stroke-dasharray="3,4.5"/>
<line x1="379.5" y1="228.6" x2="435.2" y2="228.6" stroke="#666" stroke-width="0.8" stroke-dasharray="3,4.5"/>
<line x1="442.6" y1="228.6" x2="499.2" y2="228.6" stroke="#666" stroke-width="0.8" stroke-dasharray="3,4.5"/>
<text x="343" y="164.3" font-size="10" text-anchor="middle" font-weight="bold" fill="#111" >Pre-stim</text>
<text x="409.1" y="164.7" font-size="10" text-anchor="middle" font-weight="bold" fill="#111" >Loxoribine</text>
<text x="473" y="164.7" font-size="10" text-anchor="middle" font-weight="bold" fill="#111" >CpG B</text>
<line x1="314" y1="234.3" x2="497.5" y2="234.3" stroke="#404040" stroke-width="1.3" />
<polyline points="493,231.5 498,234.3 493,237.1" fill="none" stroke="#404040" stroke-width="1.3" stroke-linejoin="round" />
<text x="414.2" y="245.5" font-size="10" text-anchor="middle" font-weight="bold" fill="#111" >MHC II</text>
<text x="315" y="177.8" font-size="8.3" text-anchor="start" font-weight="bold" fill="#000" >WT</text>
<text x="315" y="187.7" font-size="8.3" text-anchor="start" font-weight="bold" fill="#b0b0b0" >CD28ko</text>
<polyline points="314,228.7 327,228.3 330.5,227 333,224.5 335.5,222.5 338,220 340.5,218.5 342.5,214 344,206 345.5,201 347.3,193 348.8,183 349.8,174 350.8,180 351.8,175 352.8,186 354.3,202 356,211 357.5,218 359.5,225 362.5,228.3 374,228.8" fill="none" stroke="#c2c2c2" stroke-width="1.0" stroke-linejoin="round" />
<polyline points="377.9,228.3 384,227.5 387,226 390.4,224 393,223.5 396,223 398,219 400,214.5 402,219 404,224 406,223 408,225 410.7,223 413,222 415,218 416.8,205 418,195 419.5,192 421,186 422.8,183 424,180 425,176 426.3,173 427.5,182 429,198 430.5,217 432,225 436,228" fill="none" stroke="#c2c2c2" stroke-width="1.0" stroke-linejoin="round" />
<polyline points="441.3,228.3 447,227.5 451,225 454,221 456,224 458,219.5 460,222 462,220 465,223 467.5,220 470,223 473,221 476,222.5 478.6,219 480.8,210 483,200 484.5,188 486,175 487.3,183 488.3,180 489,190 490,196 491.2,203 492.3,210 493.5,219 494.6,227 496,228.3 500,228.5" fill="none" stroke="#c2c2c2" stroke-width="1.0" stroke-linejoin="round" />
<polyline points="314,228.5 326.9,228.5 330,227.5 332,226 334.8,223.5 337.8,221.6 339.8,219.6 341.8,217.6 343.8,207.6 345.8,199.7 347.8,195.7 349.2,185.8 350.4,172.8 351.4,178.8 352.1,176.8 353.1,187.7 354.7,203.7 356.3,211.6 357.7,217.6 359.7,225.5 362.7,228.5 374,228.8" fill="none" stroke="#404040" stroke-width="1.0" stroke-linejoin="round" />
<polyline points="377.9,228 384,228 387,225.8 390.4,223.5 393,224.5 396,222.4 398.3,217.9 400.1,212.9 401.7,220.1 403.9,225.8 406,224.5 408,226 410.7,222.4 412.5,224 414.1,225.8 416.4,215.6 417.5,199.8 418.6,190.7 419.8,194 421.6,181.7 423.2,186.2 424.3,177.1 425.4,171.5 426.5,174.9 427.7,186.2 429.3,202 430.6,220.1 432.2,226.9 436,228" fill="none" stroke="#404040" stroke-width="1.0" stroke-linejoin="round" />
<polyline points="441.3,228 447,228 451.4,225.8 455,224.5 458.2,222.4 461,223.5 463.5,222 467.3,221.9 471.8,223.5 476.3,222.4 478.6,220.1 480.8,211.1 483.1,202 484.9,186.2 486.5,171.5 487.6,181.7 488.2,178 488.8,189.6 489.9,195.2 491,202 492.1,208.8 493.3,217.9 494.4,226.9 496,228.3 500,228.5" fill="none" stroke="#404040" stroke-width="1.0" stroke-linejoin="round" />
<line x1="536.5" y1="167" x2="536.5" y2="236.4" stroke="#4a4a4a" stroke-width="1.0" />
<line x1="534.5" y1="236.4" x2="536.5" y2="236.4" stroke="#4a4a4a" stroke-width="1.0" />
<text x="533.7" y="238.92" font-size="7.0" text-anchor="end" font-weight="normal" fill="#4a4a4a" >0</text>
<line x1="534.5" y1="219.05" x2="536.5" y2="219.05" stroke="#4a4a4a" stroke-width="1.0" />
<text x="533.7" y="221.57" font-size="7.0" text-anchor="end" font-weight="normal" fill="#4a4a4a" >10000</text>
<line x1="534.5" y1="201.7" x2="536.5" y2="201.7" stroke="#4a4a4a" stroke-width="1.0" />
<text x="533.7" y="204.22" font-size="7.0" text-anchor="end" font-weight="normal" fill="#4a4a4a" >20000</text>
<line x1="534.5" y1="184.35" x2="536.5" y2="184.35" stroke="#4a4a4a" stroke-width="1.0" />
<text x="533.7" y="186.87" font-size="7.0" text-anchor="end" font-weight="normal" fill="#4a4a4a" >30000</text>
<line x1="534.5" y1="167" x2="536.5" y2="167" stroke="#4a4a4a" stroke-width="1.0" />
<text x="533.7" y="169.52" font-size="7.0" text-anchor="end" font-weight="normal" fill="#4a4a4a" >40000</text>
<line x1="536.5" y1="236.4" x2="607" y2="236.4" stroke="#4a4a4a" stroke-width="1.0" />
<line x1="548.2" y1="236.4" x2="548.2" y2="238.4" stroke="#4a4a4a" stroke-width="1.0" />
<line x1="571.4" y1="236.4" x2="571.4" y2="238.4" stroke="#4a4a4a" stroke-width="1.0" />
<line x1="594.4" y1="236.4" x2="594.4" y2="238.4" stroke="#4a4a4a" stroke-width="1.0" />
<rect x="540.5" y="230.1" width="6.5" height="6.3" fill="#000" stroke="none" stroke-width="1.0" />
<rect x="549.9" y="230.3" width="5.3" height="6.1" fill="#fff" stroke="#000" stroke-width="1.0" />
<rect x="564" y="197.6" width="6.6" height="38.8" fill="#000" stroke="none" stroke-width="1.0" />
<rect x="572.9" y="188.2" width="5.4" height="48.2" fill="#fff" stroke="#000" stroke-width="1.0" />
<rect x="587" y="200" width="6.6" height="36.4" fill="#000" stroke="none" stroke-width="1.0" />
<rect x="595.7" y="197.4" width="5.4" height="39" fill="#fff" stroke="#000" stroke-width="1.0" />
<line x1="575.6" y1="187.7" x2="575.6" y2="185.2" stroke="#000" stroke-width="0.8" />
<line x1="574.2" y1="185.2" x2="577" y2="185.2" stroke="#000" stroke-width="0.8" />
<line x1="590.3" y1="200" x2="590.3" y2="199" stroke="#000" stroke-width="0.8" />
<line x1="588.9" y1="199" x2="591.7" y2="199" stroke="#000" stroke-width="0.8" />
<line x1="598.4" y1="196.9" x2="598.4" y2="195.3" stroke="#000" stroke-width="0.8" />
<line x1="597" y1="195.3" x2="599.8" y2="195.3" stroke="#000" stroke-width="0.8" />
<line x1="567.3" y1="197.6" x2="567.3" y2="197" stroke="#000" stroke-width="0.8" />
<line x1="565.9" y1="197" x2="568.7" y2="197" stroke="#000" stroke-width="0.8" />
<text x="575.3" y="185.8" font-size="7.0" text-anchor="middle" font-weight="normal" fill="#444" >*</text>
<text x="577.6" y="161.6" font-size="10" text-anchor="middle" font-weight="bold" fill="#111" >MHCII</text>
<rect x="539.4" y="165.9" width="8" height="5.1" fill="#000" stroke="none" stroke-width="1.0" />
<rect x="539.9" y="174.5" width="7" height="4.1" fill="#fff" stroke="#000" stroke-width="1" />
<text x="550.8" y="171" font-size="7.0" text-anchor="start" font-weight="normal" fill="#4a4a4a" >WT</text>
<text x="550.8" y="179.1" font-size="7.0" text-anchor="start" font-weight="normal" fill="#4a4a4a" >CD28ko</text>
<text x="511" y="200" font-size="6.5" text-anchor="middle" font-weight="normal" fill="#4a4a4a" transform="rotate(-90 511 200)" >MFI</text>
<text x="549.8" y="242.8" font-size="7.2" text-anchor="end" font-weight="normal" fill="#2a2a2a" transform="rotate(-45 549.8 242.8)" >Pre-stim</text>
<text x="573" y="242.8" font-size="7.2" text-anchor="end" font-weight="normal" fill="#2a2a2a" transform="rotate(-45 573 242.8)" >Loxoribine</text>
<text x="596" y="242.8" font-size="7.2" text-anchor="end" font-weight="normal" fill="#2a2a2a" transform="rotate(-45 596 242.8)" >CpG B</text>
<text x="58" y="296.5" font-size="10" text-anchor="middle" font-weight="bold" fill="#111" >pDC</text>
<line x1="31" y1="300.4" x2="90.9" y2="300.4" stroke="#b0b0b0" stroke-width="0.8" />
<line x1="90.9" y1="300.4" x2="90.9" y2="361" stroke="#b0b0b0" stroke-width="0.8" />
<line x1="31" y1="300.4" x2="31" y2="361" stroke="#333" stroke-width="0.9" stroke-dasharray="2.5,6"/>
<line x1="31" y1="361" x2="91" y2="361" stroke="#555" stroke-width="0.9" />
<line x1="36" y1="361" x2="36" y2="362.5" stroke="#555" stroke-width="0.8" />
<line x1="42" y1="361" x2="42" y2="362.5" stroke="#555" stroke-width="0.8" />
<line x1="54" y1="361" x2="54" y2="362.5" stroke="#555" stroke-width="0.8" />
<line x1="66" y1="361" x2="66" y2="362.5" stroke="#555" stroke-width="0.8" />
<line x1="72" y1="361" x2="72" y2="362.5" stroke="#555" stroke-width="0.8" />
<line x1="78" y1="361" x2="78" y2="362.5" stroke="#555" stroke-width="0.8" />
<line x1="84" y1="361" x2="84" y2="362.5" stroke="#555" stroke-width="0.8" />
<rect x="50.7" y="300.9" width="38" height="29.6" fill="none" stroke="#9a9a9a" stroke-width="0.9" />
<rect x="51.5" y="331.2" width="36.5" height="29" fill="none" stroke="#9a9a9a" stroke-width="0.9" />
<ellipse cx="75.9" cy="316.4" rx="5.2" ry="10.5" fill="url(#rgG)"/>
<ellipse cx="75.6" cy="341.5" rx="6.2" ry="10.5" fill="url(#rgK)"/>
<rect x="73.0" y="318.0" width="0.9" height="0.9" fill="#3aa03a" fill-opacity="0.67"/>
<rect x="73.1" y="317.4" width="0.9" height="0.9" fill="#3aa03a" fill-opacity="0.51"/>
<rect x="77.0" y="321.5" width="0.9" height="0.9" fill="#3aa03a" fill-opacity="0.53"/>
<rect x="76.2" y="314.1" width="0.9" height="0.9" fill="#3aa03a" fill-opacity="0.39"/>
<rect x="79.6" y="320.9" width="0.9" height="0.9" fill="#3aa03a" fill-opacity="0.56"/>
<rect x="82.5" y="319.7" width="0.9" height="0.9" fill="#3aa03a" fill-opacity="0.68"/>
<rect x="74.0" y="310.7" width="0.9" height="0.9" fill="#3aa03a" fill-opacity="0.32"/>
<rect x="78.8" y="316.8" width="0.9" height="0.9" fill="#3aa03a" fill-opacity="0.28"/>
<rect x="76.6" y="319.5" width="0.9" height="0.9" fill="#3aa03a" fill-opacity="0.26"/>
<rect x="73.4" y="317.4" width="0.9" height="0.9" fill="#3aa03a" fill-opacity="0.63"/>
<rect x="72.5" y="315.4" width="0.9" height="0.9" fill="#3aa03a" fill-opacity="0.47"/>
<rect x="74.5" y="311.7" width="0.9" height="0.9" fill="#3aa03a" fill-opacity="0.38"/>
<rect x="83.8" y="316.0" width="0.9" height="0.9" fill="#3aa03a" fill-opacity="0.63"/>
<rect x="75.4" y="312.2" width="0.9" height="0.9" fill="#3aa03a" fill-opacity="0.35"/>
<rect x="75.7" y="318.0" width="0.9" height="0.9" fill="#3aa03a" fill-opacity="0.59"/>
<rect x="72.1" y="321.6" width="0.9" height="0.9" fill="#3aa03a" fill-opacity="0.42"/>
<rect x="80.4" y="313.8" width="0.9" height="0.9" fill="#3aa03a" fill-opacity="0.25"/>
<rect x="77.2" y="326.4" width="0.9" height="0.9" fill="#3aa03a" fill-opacity="0.46"/>
<rect x="78.3" y="315.6" width="0.9" height="0.9" fill="#3aa03a" fill-opacity="0.28"/>
<rect x="73.0" y="310.1" width="0.9" height="0.9" fill="#3aa03a" fill-opacity="0.37"/>
<rect x="77.7" y="318.4" width="0.9" height="0.9" fill="#3aa03a" fill-opacity="0.68"/>
<rect x="76.0" y="313.8" width="0.9" height="0.9" fill="#3aa03a" fill-opacity="0.36"/>
<rect x="76.6" y="317.2" width="0.9" height="0.9" fill="#3aa03a" fill-opacity="0.61"/>
<rect x="77.2" y="321.7" width="0.9" height="0.9" fill="#3aa03a" fill-opacity="0.45"/>
<rect x="77.3" y="323.5" width="0.9" height="0.9" fill="#3aa03a" fill-opacity="0.31"/>
<rect x="75.2" y="314.3" width="0.9" height="0.9" fill="#3aa03a" fill-opacity="0.44"/>
<rect x="76.3" y="319.9" width="0.9" height="0.9" fill="#3aa03a" fill-opacity="0.69"/>
<rect x="76.6" y="312.3" width="0.9" height="0.9" fill="#3aa03a" fill-opacity="0.65"/>
<rect x="76.5" y="320.9" width="0.9" height="0.9" fill="#3aa03a" fill-opacity="0.63"/>
<rect x="75.2" y="314.5" width="0.9" height="0.9" fill="#3aa03a" fill-opacity="0.70"/>
<rect x="76.3" y="319.8" width="0.9" height="0.9" fill="#3aa03a" fill-opacity="0.60"/>
<rect x="74.9" y="319.7" width="0.9" height="0.9" fill="#3aa03a" fill-opacity="0.28"/>
<rect x="78.6" y="319.6" width="0.9" height="0.9" fill="#3aa03a" fill-opacity="0.36"/>
<rect x="74.0" y="313.4" width="0.9" height="0.9" fill="#3aa03a" fill-opacity="0.45"/>
<rect x="78.6" y="314.8" width="0.9" height="0.9" fill="#3aa03a" fill-opacity="0.51"/>
<rect x="76.9" y="313.9" width="0.9" height="0.9" fill="#3aa03a" fill-opacity="0.32"/>
<rect x="79.6" y="311.4" width="0.9" height="0.9" fill="#3aa03a" fill-opacity="0.36"/>
<rect x="77.4" y="323.5" width="0.9" height="0.9" fill="#3aa03a" fill-opacity="0.67"/>
<rect x="77.8" y="327.3" width="0.9" height="0.9" fill="#3aa03a" fill-opacity="0.65"/>
<rect x="73.9" y="313.2" width="0.9" height="0.9" fill="#3aa03a" fill-opacity="0.30"/>
<rect x="81.9" y="319.2" width="0.9" height="0.9" fill="#3aa03a" fill-opacity="0.36"/>
<rect x="75.4" y="312.6" width="0.9" height="0.9" fill="#3aa03a" fill-opacity="0.62"/>
<rect x="74.3" y="313.9" width="0.9" height="0.9" fill="#3aa03a" fill-opacity="0.33"/>
<rect x="75.7" y="314.4" width="0.9" height="0.9" fill="#3aa03a" fill-opacity="0.35"/>
<rect x="71.5" y="312.8" width="0.9" height="0.9" fill="#3aa03a" fill-opacity="0.53"/>
<rect x="74.9" y="326.7" width="0.9" height="0.9" fill="#3aa03a" fill-opacity="0.34"/>
<rect x="77.8" y="316.6" width="0.9" height="0.9" fill="#3aa03a" fill-opacity="0.45"/>
<rect x="77.3" y="317.3" width="0.9" height="0.9" fill="#3aa03a" fill-opacity="0.42"/>
<rect x="74.8" y="315.1" width="0.9" height="0.9" fill="#3aa03a" fill-opacity="0.41"/>
<rect x="81.1" y="307.7" width="0.9" height="0.9" fill="#3aa03a" fill-opacity="0.55"/>
<rect x="74.8" y="310.3" width="0.9" height="0.9" fill="#3aa03a" fill-opacity="0.31"/>
<rect x="76.3" y="316.4" width="0.9" height="0.9" fill="#3aa03a" fill-opacity="0.66"/>
<rect x="74.0" y="304.5" width="0.9" height="0.9" fill="#3aa03a" fill-opacity="0.26"/>
<rect x="74.1" y="312.0" width="0.9" height="0.9" fill="#3aa03a" fill-opacity="0.58"/>
<rect x="78.6" y="318.9" width="0.9" height="0.9" fill="#3aa03a" fill-opacity="0.58"/>
<rect x="79.1" y="311.6" width="0.9" height="0.9" fill="#3aa03a" fill-opacity="0.57"/>
<rect x="77.3" y="305.9" width="0.9" height="0.9" fill="#3aa03a" fill-opacity="0.41"/>
<rect x="73.9" y="306.7" width="0.9" height="0.9" fill="#3aa03a" fill-opacity="0.64"/>
<rect x="72.2" y="320.4" width="0.9" height="0.9" fill="#3aa03a" fill-opacity="0.64"/>
<rect x="72.9" y="313.2" width="0.9" height="0.9" fill="#3aa03a" fill-opacity="0.42"/>
<rect x="73.0" y="312.9" width="0.9" height="0.9" fill="#3aa03a" fill-opacity="0.29"/>
<rect x="71.0" y="304.5" width="0.9" height="0.9" fill="#3aa03a" fill-opacity="0.65"/>
<rect x="75.6" y="311.5" width="0.9" height="0.9" fill="#3aa03a" fill-opacity="0.58"/>
<rect x="73.6" y="313.7" width="0.9" height="0.9" fill="#3aa03a" fill-opacity="0.63"/>
<rect x="79.4" y="320.2" width="0.9" height="0.9" fill="#3aa03a" fill-opacity="0.26"/>
<rect x="73.7" y="312.9" width="0.9" height="0.9" fill="#3aa03a" fill-opacity="0.35"/>
<rect x="75.0" y="310.9" width="0.9" height="0.9" fill="#3aa03a" fill-opacity="0.53"/>
<rect x="77.5" y="314.4" width="0.9" height="0.9" fill="#3aa03a" fill-opacity="0.26"/>
<rect x="74.8" y="323.1" width="0.9" height="0.9" fill="#3aa03a" fill-opacity="0.34"/>
<rect x="78.4" y="325.3" width="0.9" height="0.9" fill="#3aa03a" fill-opacity="0.55"/>
<rect x="71.2" y="319.8" width="0.9" height="0.9" fill="#3aa03a" fill-opacity="0.40"/>
<rect x="75.1" y="313.4" width="0.9" height="0.9" fill="#3aa03a" fill-opacity="0.44"/>
<rect x="77.7" y="306.2" width="0.9" height="0.9" fill="#3aa03a" fill-opacity="0.65"/>
<rect x="73.5" y="320.4" width="0.9" height="0.9" fill="#3aa03a" fill-opacity="0.39"/>
<rect x="77.7" y="320.4" width="0.9" height="0.9" fill="#3aa03a" fill-opacity="0.63"/>
<rect x="78.1" y="310.0" width="0.9" height="0.9" fill="#3aa03a" fill-opacity="0.68"/>
<rect x="75.7" y="319.1" width="0.9" height="0.9" fill="#3aa03a" fill-opacity="0.45"/>
<rect x="75.6" y="319.5" width="0.9" height="0.9" fill="#3aa03a" fill-opacity="0.44"/>
<rect x="73.9" y="312.2" width="0.9" height="0.9" fill="#3aa03a" fill-opacity="0.39"/>
<rect x="79.5" y="304.7" width="0.9" height="0.9" fill="#3aa03a" fill-opacity="0.45"/>
<rect x="76.4" y="316.7" width="0.9" height="0.9" fill="#3aa03a" fill-opacity="0.64"/>
<rect x="79.5" y="318.1" width="0.9" height="0.9" fill="#3aa03a" fill-opacity="0.51"/>
<rect x="74.4" y="324.1" width="0.9" height="0.9" fill="#3aa03a" fill-opacity="0.26"/>
<rect x="77.6" y="320.2" width="0.9" height="0.9" fill="#3aa03a" fill-opacity="0.26"/>
<rect x="76.7" y="313.1" width="0.9" height="0.9" fill="#3aa03a" fill-opacity="0.31"/>
<rect x="79.1" y="318.2" width="0.9" height="0.9" fill="#3aa03a" fill-opacity="0.45"/>
<rect x="73.5" y="311.1" width="0.9" height="0.9" fill="#3aa03a" fill-opacity="0.61"/>
<rect x="79.4" y="314.3" width="0.9" height="0.9" fill="#3aa03a" fill-opacity="0.34"/>
<rect x="74.4" y="316.7" width="0.9" height="0.9" fill="#3aa03a" fill-opacity="0.25"/>
<rect x="72.2" y="317.5" width="0.9" height="0.9" fill="#3aa03a" fill-opacity="0.33"/>
<rect x="75.6" y="320.6" width="0.9" height="0.9" fill="#3aa03a" fill-opacity="0.56"/>
<rect x="72.6" y="315.4" width="0.9" height="0.9" fill="#3aa03a" fill-opacity="0.59"/>
<rect x="72.6" y="321.5" width="0.9" height="0.9" fill="#3aa03a" fill-opacity="0.66"/>
<rect x="80.7" y="322.0" width="0.9" height="0.9" fill="#3aa03a" fill-opacity="0.58"/>
<rect x="77.7" y="320.0" width="0.9" height="0.9" fill="#3aa03a" fill-opacity="0.53"/>
<rect x="77.9" y="313.7" width="0.9" height="0.9" fill="#3aa03a" fill-opacity="0.51"/>
<rect x="79.0" y="310.3" width="0.9" height="0.9" fill="#3aa03a" fill-opacity="0.67"/>
<rect x="72.5" y="317.8" width="0.9" height="0.9" fill="#3aa03a" fill-opacity="0.34"/>
<rect x="75.1" y="307.5" width="0.9" height="0.9" fill="#3aa03a" fill-opacity="0.54"/>
<rect x="75.6" y="312.9" width="0.9" height="0.9" fill="#3aa03a" fill-opacity="0.65"/>
<rect x="82.5" y="314.6" width="0.9" height="0.9" fill="#3aa03a" fill-opacity="0.49"/>
<rect x="76.4" y="312.1" width="0.9" height="0.9" fill="#3aa03a" fill-opacity="0.66"/>
<rect x="77.3" y="312.7" width="0.9" height="0.9" fill="#3aa03a" fill-opacity="0.29"/>
<rect x="73.1" y="318.4" width="0.9" height="0.9" fill="#3aa03a" fill-opacity="0.60"/>
<rect x="75.3" y="316.3" width="0.9" height="0.9" fill="#3aa03a" fill-opacity="0.61"/>
<rect x="79.9" y="319.6" width="0.9" height="0.9" fill="#3aa03a" fill-opacity="0.33"/>
<rect x="73.7" y="323.5" width="0.9" height="0.9" fill="#3aa03a" fill-opacity="0.31"/>
<rect x="77.6" y="320.9" width="0.9" height="0.9" fill="#3aa03a" fill-opacity="0.58"/>
<rect x="77.9" y="310.0" width="0.9" height="0.9" fill="#3aa03a" fill-opacity="0.68"/>
<rect x="70.0" y="316.7" width="0.9" height="0.9" fill="#3aa03a" fill-opacity="0.29"/>
<rect x="76.4" y="322.0" width="0.9" height="0.9" fill="#3aa03a" fill-opacity="0.38"/>
<rect x="75.4" y="309.4" width="0.9" height="0.9" fill="#3aa03a" fill-opacity="0.49"/>
<rect x="77.6" y="311.1" width="0.9" height="0.9" fill="#3aa03a" fill-opacity="0.39"/>
<rect x="72.5" y="322.5" width="0.9" height="0.9" fill="#3aa03a" fill-opacity="0.66"/>
<rect x="77.1" y="325.2" width="0.9" height="0.9" fill="#3aa03a" fill-opacity="0.69"/>
<rect x="72.8" y="315.3" width="0.9" height="0.9" fill="#3aa03a" fill-opacity="0.34"/>
<rect x="73.1" y="314.9" width="0.9" height="0.9" fill="#3aa03a" fill-opacity="0.52"/>
<rect x="82.1" y="318.4" width="0.9" height="0.9" fill="#3aa03a" fill-opacity="0.48"/>
<rect x="72.4" y="321.2" width="0.9" height="0.9" fill="#3aa03a" fill-opacity="0.50"/>
<rect x="72.2" y="316.6" width="0.9" height="0.9" fill="#3aa03a" fill-opacity="0.28"/>
<rect x="73.5" y="315.0" width="0.9" height="0.9" fill="#3aa03a" fill-opacity="0.68"/>
<rect x="77.6" y="314.4" width="0.9" height="0.9" fill="#3aa03a" fill-opacity="0.46"/>
<rect x="77.7" y="319.9" width="0.9" height="0.9" fill="#3aa03a" fill-opacity="0.62"/>
<rect x="78.1" y="313.0" width="0.9" height="0.9" fill="#3aa03a" fill-opacity="0.39"/>
<rect x="77.1" y="322.4" width="0.9" height="0.9" fill="#3aa03a" fill-opacity="0.67"/>
<rect x="78.8" y="322.3" width="0.9" height="0.9" fill="#3aa03a" fill-opacity="0.26"/>
<rect x="76.5" y="319.4" width="0.9" height="0.9" fill="#3aa03a" fill-opacity="0.56"/>
<rect x="74.9" y="320.2" width="0.9" height="0.9" fill="#3aa03a" fill-opacity="0.53"/>
<rect x="79.0" y="321.0" width="0.9" height="0.9" fill="#3aa03a" fill-opacity="0.31"/>
<rect x="74.1" y="316.0" width="0.9" height="0.9" fill="#3aa03a" fill-opacity="0.34"/>
<rect x="73.4" y="315.2" width="0.9" height="0.9" fill="#3aa03a" fill-opacity="0.42"/>
<rect x="73.4" y="319.3" width="0.9" height="0.9" fill="#3aa03a" fill-opacity="0.32"/>
<rect x="76.9" y="322.7" width="0.9" height="0.9" fill="#3aa03a" fill-opacity="0.54"/>
<rect x="71.3" y="314.5" width="0.9" height="0.9" fill="#3aa03a" fill-opacity="0.53"/>
<rect x="77.0" y="313.5" width="0.9" height="0.9" fill="#3aa03a" fill-opacity="0.58"/>
<rect x="77.8" y="306.6" width="0.9" height="0.9" fill="#3aa03a" fill-opacity="0.39"/>
<rect x="73.7" y="326.2" width="0.9" height="0.9" fill="#3aa03a" fill-opacity="0.35"/>
<rect x="80.9" y="316.1" width="0.9" height="0.9" fill="#3aa03a" fill-opacity="0.31"/>
<rect x="76.2" y="323.9" width="0.9" height="0.9" fill="#3aa03a" fill-opacity="0.37"/>
<rect x="79.6" y="321.4" width="0.9" height="0.9" fill="#3aa03a" fill-opacity="0.44"/>
<rect x="76.2" y="313.8" width="0.9" height="0.9" fill="#3aa03a" fill-opacity="0.43"/>
<rect x="75.7" y="315.4" width="0.9" height="0.9" fill="#3aa03a" fill-opacity="0.34"/>
<rect x="73.7" y="306.6" width="0.9" height="0.9" fill="#3aa03a" fill-opacity="0.69"/>
<rect x="78.0" y="320.0" width="0.9" height="0.9" fill="#3aa03a" fill-opacity="0.59"/>
<rect x="72.2" y="316.1" width="0.9" height="0.9" fill="#3aa03a" fill-opacity="0.34"/>
<rect x="76.9" y="317.2" width="0.9" height="0.9" fill="#3aa03a" fill-opacity="0.27"/>
<rect x="73.2" y="314.4" width="0.9" height="0.9" fill="#3aa03a" fill-opacity="0.51"/>
<rect x="76.8" y="318.6" width="0.9" height="0.9" fill="#3aa03a" fill-opacity="0.34"/>
<rect x="79.8" y="303.9" width="0.9" height="0.9" fill="#3aa03a" fill-opacity="0.67"/>
<rect x="76.6" y="317.2" width="0.9" height="0.9" fill="#3aa03a" fill-opacity="0.68"/>
<rect x="71.9" y="318.1" width="0.9" height="0.9" fill="#3aa03a" fill-opacity="0.40"/>
<rect x="73.1" y="317.4" width="0.9" height="0.9" fill="#3aa03a" fill-opacity="0.44"/>
<rect x="75.6" y="315.7" width="0.9" height="0.9" fill="#3aa03a" fill-opacity="0.57"/>
<rect x="76.7" y="313.7" width="0.9" height="0.9" fill="#3aa03a" fill-opacity="0.45"/>
<rect x="75.7" y="311.3" width="0.9" height="0.9" fill="#3aa03a" fill-opacity="0.34"/>
<rect x="77.4" y="321.2" width="0.9" height="0.9" fill="#3aa03a" fill-opacity="0.26"/>
<rect x="79.3" y="310.8" width="0.9" height="0.9" fill="#3aa03a" fill-opacity="0.57"/>
<rect x="78.1" y="311.0" width="0.9" height="0.9" fill="#3aa03a" fill-opacity="0.43"/>
<rect x="73.6" y="312.9" width="0.9" height="0.9" fill="#3aa03a" fill-opacity="0.69"/>
<rect x="76.5" y="312.7" width="0.9" height="0.9" fill="#3aa03a" fill-opacity="0.66"/>
<rect x="75.8" y="307.9" width="0.9" height="0.9" fill="#3aa03a" fill-opacity="0.62"/>
<rect x="71.7" y="321.9" width="0.9" height="0.9" fill="#3aa03a" fill-opacity="0.65"/>
<rect x="74.5" y="308.5" width="0.9" height="0.9" fill="#3aa03a" fill-opacity="0.59"/>
<rect x="72.7" y="320.5" width="0.9" height="0.9" fill="#3aa03a" fill-opacity="0.28"/>
<rect x="74.4" y="320.7" width="0.9" height="0.9" fill="#3aa03a" fill-opacity="0.25"/>
<rect x="73.8" y="321.6" width="0.9" height="0.9" fill="#3aa03a" fill-opacity="0.53"/>
<rect x="76.5" y="327.7" width="0.9" height="0.9" fill="#3aa03a" fill-opacity="0.55"/>
<rect x="74.1" y="322.2" width="0.9" height="0.9" fill="#3aa03a" fill-opacity="0.51"/>
<rect x="73.6" y="315.2" width="0.9" height="0.9" fill="#3aa03a" fill-opacity="0.70"/>
<rect x="73.6" y="310.4" width="0.9" height="0.9" fill="#3aa03a" fill-opacity="0.59"/>
<rect x="76.4" y="316.1" width="0.9" height="0.9" fill="#3aa03a" fill-opacity="0.53"/>
<rect x="75.8" y="312.5" width="0.9" height="0.9" fill="#3aa03a" fill-opacity="0.43"/>
<rect x="77.4" y="317.2" width="0.9" height="0.9" fill="#3aa03a" fill-opacity="0.42"/>
<rect x="77.4" y="318.3" width="0.9" height="0.9" fill="#3aa03a" fill-opacity="0.66"/>
<rect x="73.2" y="314.4" width="0.9" height="0.9" fill="#3aa03a" fill-opacity="0.69"/>
<rect x="68.8" y="309.7" width="0.9" height="0.9" fill="#3aa03a" fill-opacity="0.54"/>
<rect x="76.2" y="314.4" width="0.9" height="0.9" fill="#3aa03a" fill-opacity="0.52"/>
<rect x="75.9" y="314.7" width="0.9" height="0.9" fill="#3aa03a" fill-opacity="0.67"/>
<rect x="77.4" y="320.8" width="0.9" height="0.9" fill="#3aa03a" fill-opacity="0.33"/>
<rect x="72.6" y="316.4" width="0.9" height="0.9" fill="#3aa03a" fill-opacity="0.28"/>
<rect x="78.3" y="314.5" width="0.9" height="0.9" fill="#3aa03a" fill-opacity="0.49"/>
<rect x="74.0" y="313.6" width="0.9" height="0.9" fill="#3aa03a" fill-opacity="0.38"/>
<rect x="74.2" y="311.1" width="0.9" height="0.9" fill="#3aa03a" fill-opacity="0.38"/>
<rect x="75.5" y="312.3" width="0.9" height="0.9" fill="#3aa03a" fill-opacity="0.26"/>
<rect x="75.9" y="317.6" width="0.9" height="0.9" fill="#3aa03a" fill-opacity="0.32"/>
<rect x="76.0" y="311.4" width="0.9" height="0.9" fill="#3aa03a" fill-opacity="0.65"/>
<rect x="75.9" y="314.7" width="0.9" height="0.9" fill="#3aa03a" fill-opacity="0.69"/>
<rect x="76.8" y="315.6" width="0.9" height="0.9" fill="#3aa03a" fill-opacity="0.66"/>
<rect x="73.4" y="318.5" width="0.9" height="0.9" fill="#3aa03a" fill-opacity="0.69"/>
<rect x="76.0" y="322.0" width="0.9" height="0.9" fill="#3aa03a" fill-opacity="0.67"/>
<rect x="75.4" y="310.9" width="0.9" height="0.9" fill="#3aa03a" fill-opacity="0.69"/>
<rect x="77.2" y="310.2" width="0.9" height="0.9" fill="#3aa03a" fill-opacity="0.30"/>
<rect x="74.0" y="312.5" width="0.9" height="0.9" fill="#3aa03a" fill-opacity="0.34"/>
<rect x="78.7" y="318.1" width="0.9" height="0.9" fill="#3aa03a" fill-opacity="0.31"/>
<rect x="72.6" y="318.7" width="0.9" height="0.9" fill="#3aa03a" fill-opacity="0.45"/>
<rect x="75.7" y="322.5" width="0.9" height="0.9" fill="#3aa03a" fill-opacity="0.44"/>
<rect x="76.4" y="310.4" width="0.9" height="0.9" fill="#3aa03a" fill-opacity="0.70"/>
<rect x="79.6" y="313.9" width="0.9" height="0.9" fill="#3aa03a" fill-opacity="0.36"/>
<rect x="79.7" y="322.9" width="0.9" height="0.9" fill="#3aa03a" fill-opacity="0.60"/>
<rect x="74.3" y="313.0" width="0.9" height="0.9" fill="#3aa03a" fill-opacity="0.37"/>
<rect x="74.7" y="310.5" width="0.9" height="0.9" fill="#3aa03a" fill-opacity="0.52"/>
<rect x="73.2" y="310.2" width="0.9" height="0.9" fill="#3aa03a" fill-opacity="0.34"/>
<rect x="80.2" y="311.2" width="0.9" height="0.9" fill="#3aa03a" fill-opacity="0.27"/>
<rect x="77.7" y="317.6" width="0.9" height="0.9" fill="#3aa03a" fill-opacity="0.44"/>
<rect x="75.1" y="314.6" width="0.9" height="0.9" fill="#3aa03a" fill-opacity="0.49"/>
<rect x="76.8" y="317.1" width="0.9" height="0.9" fill="#3aa03a" fill-opacity="0.55"/>
<rect x="72.7" y="314.1" width="0.9" height="0.9" fill="#3aa03a" fill-opacity="0.42"/>
<rect x="74.3" y="316.6" width="0.9" height="0.9" fill="#3aa03a" fill-opacity="0.40"/>
<rect x="75.8" y="307.0" width="0.9" height="0.9" fill="#3aa03a" fill-opacity="0.28"/>
<rect x="79.1" y="322.2" width="0.9" height="0.9" fill="#3aa03a" fill-opacity="0.53"/>
<rect x="76.1" y="312.9" width="0.9" height="0.9" fill="#3aa03a" fill-opacity="0.44"/>
<rect x="75.7" y="324.9" width="0.9" height="0.9" fill="#3aa03a" fill-opacity="0.42"/>
<rect x="71.8" y="304.3" width="0.9" height="0.9" fill="#3aa03a" fill-opacity="0.40"/>
<rect x="72.1" y="313.8" width="0.9" height="0.9" fill="#3aa03a" fill-opacity="0.66"/>
<rect x="73.8" y="318.2" width="0.9" height="0.9" fill="#3aa03a" fill-opacity="0.29"/>
<rect x="76.6" y="314.8" width="0.9" height="0.9" fill="#3aa03a" fill-opacity="0.29"/>
<rect x="73.4" y="314.0" width="0.9" height="0.9" fill="#3aa03a" fill-opacity="0.56"/>
<rect x="74.6" y="324.1" width="0.9" height="0.9" fill="#3aa03a" fill-opacity="0.28"/>
<rect x="76.7" y="323.1" width="0.9" height="0.9" fill="#3aa03a" fill-opacity="0.29"/>
<rect x="74.6" y="323.5" width="0.9" height="0.9" fill="#3aa03a" fill-opacity="0.56"/>
<rect x="75.6" y="318.8" width="0.9" height="0.9" fill="#3aa03a" fill-opacity="0.41"/>
<rect x="75.6" y="311.7" width="0.9" height="0.9" fill="#3aa03a" fill-opacity="0.30"/>
<rect x="75.1" y="310.2" width="0.9" height="0.9" fill="#3aa03a" fill-opacity="0.66"/>
<rect x="80.8" y="312.3" width="0.9" height="0.9" fill="#3aa03a" fill-opacity="0.45"/>
<rect x="76.6" y="312.3" width="0.9" height="0.9" fill="#3aa03a" fill-opacity="0.39"/>
<rect x="71.4" y="322.8" width="0.9" height="0.9" fill="#3aa03a" fill-opacity="0.65"/>
<rect x="75.9" y="320.7" width="0.9" height="0.9" fill="#3aa03a" fill-opacity="0.41"/>
<rect x="74.3" y="319.8" width="0.9" height="0.9" fill="#3aa03a" fill-opacity="0.42"/>
<rect x="61.4" y="317.1" width="0.9" height="0.9" fill="#bbb" fill-opacity="0.50"/>
<rect x="81.3" y="316.5" width="0.9" height="0.9" fill="#bbb" fill-opacity="0.50"/>
<rect x="82.6" y="317.1" width="0.9" height="0.9" fill="#bbb" fill-opacity="0.50"/>
<rect x="60.8" y="322.0" width="0.9" height="0.9" fill="#bbb" fill-opacity="0.50"/>
<rect x="84.1" y="310.0" width="0.9" height="0.9" fill="#bbb" fill-opacity="0.50"/>
<rect x="55.7" y="315.9" width="0.9" height="0.9" fill="#bbb" fill-opacity="0.50"/>
<rect x="73.0" y="317.2" width="0.9" height="0.9" fill="#bbb" fill-opacity="0.50"/>
<rect x="86.9" y="319.3" width="0.9" height="0.9" fill="#bbb" fill-opacity="0.50"/>
<rect x="81.5" y="304.6" width="0.9" height="0.9" fill="#bbb" fill-opacity="0.50"/>
<rect x="73.0" y="322.7" width="0.9" height="0.9" fill="#bbb" fill-opacity="0.50"/>
<rect x="57.8" y="305.0" width="0.9" height="0.9" fill="#bbb" fill-opacity="0.50"/>
<rect x="79.3" y="325.5" width="0.9" height="0.9" fill="#bbb" fill-opacity="0.50"/>
<rect x="57.8" y="318.9" width="0.9" height="0.9" fill="#bbb" fill-opacity="0.50"/>
<rect x="59.7" y="321.6" width="0.9" height="0.9" fill="#bbb" fill-opacity="0.50"/>
<rect x="76.4" y="309.1" width="0.9" height="0.9" fill="#bbb" fill-opacity="0.50"/>
<rect x="62.3" y="322.1" width="0.9" height="0.9" fill="#bbb" fill-opacity="0.50"/>
<rect x="72.2" y="322.1" width="0.9" height="0.9" fill="#bbb" fill-opacity="0.50"/>
<rect x="68.0" y="311.4" width="0.9" height="0.9" fill="#bbb" fill-opacity="0.50"/>
<rect x="87.0" y="319.8" width="0.9" height="0.9" fill="#bbb" fill-opacity="0.50"/>
<rect x="71.3" y="316.4" width="0.9" height="0.9" fill="#bbb" fill-opacity="0.50"/>
<rect x="78.8" y="320.7" width="0.9" height="0.9" fill="#bbb" fill-opacity="0.50"/>
<rect x="85.2" y="313.3" width="0.9" height="0.9" fill="#bbb" fill-opacity="0.50"/>
<rect x="82.3" y="319.7" width="0.9" height="0.9" fill="#bbb" fill-opacity="0.50"/>
<rect x="83.2" y="323.1" width="0.9" height="0.9" fill="#bbb" fill-opacity="0.50"/>
<rect x="82.5" y="325.2" width="0.9" height="0.9" fill="#bbb" fill-opacity="0.50"/>
<rect x="79.8" y="339.6" width="0.9" height="0.9" fill="#000" fill-opacity="0.51"/>
<rect x="74.5" y="332.4" width="0.9" height="0.9" fill="#000" fill-opacity="0.46"/>
<rect x="74.4" y="342.9" width="0.9" height="0.9" fill="#000" fill-opacity="0.62"/>
<rect x="78.6" y="341.2" width="0.9" height="0.9" fill="#000" fill-opacity="0.33"/>
<rect x="76.7" y="346.7" width="0.9" height="0.9" fill="#000" fill-opacity="0.40"/>
<rect x="76.8" y="341.2" width="0.9" height="0.9" fill="#000" fill-opacity="0.40"/>
<rect x="78.9" y="346.5" width="0.9" height="0.9" fill="#000" fill-opacity="0.64"/>
<rect x="76.2" y="343.2" width="0.9" height="0.9" fill="#000" fill-opacity="0.48"/>
<rect x="70.3" y="335.8" width="0.9" height="0.9" fill="#000" fill-opacity="0.27"/>
<rect x="77.2" y="343.6" width="0.9" height="0.9" fill="#000" fill-opacity="0.36"/>
<rect x="76.2" y="349.7" width="0.9" height="0.9" fill="#000" fill-opacity="0.55"/>
<rect x="76.1" y="344.8" width="0.9" height="0.9" fill="#000" fill-opacity="0.39"/>
<rect x="78.1" y="349.2" width="0.9" height="0.9" fill="#000" fill-opacity="0.41"/>
<rect x="70.7" y="338.6" width="0.9" height="0.9" fill="#000" fill-opacity="0.49"/>
<rect x="75.4" y="352.3" width="0.9" height="0.9" fill="#000" fill-opacity="0.71"/>
<rect x="73.8" y="347.0" width="0.9" height="0.9" fill="#000" fill-opacity="0.73"/>
<rect x="73.8" y="341.9" width="0.9" height="0.9" fill="#000" fill-opacity="0.27"/>
<rect x="80.7" y="338.5" width="0.9" height="0.9" fill="#000" fill-opacity="0.44"/>
<rect x="72.4" y="340.4" width="0.9" height="0.9" fill="#000" fill-opacity="0.39"/>
<rect x="80.0" y="341.0" width="0.9" height="0.9" fill="#000" fill-opacity="0.37"/>
<rect x="79.1" y="341.9" width="0.9" height="0.9" fill="#000" fill-opacity="0.44"/>
<rect x="77.1" y="333.6" width="0.9" height="0.9" fill="#000" fill-opacity="0.55"/>
<rect x="76.7" y="344.0" width="0.9" height="0.9" fill="#000" fill-opacity="0.41"/>
<rect x="75.5" y="352.0" width="0.9" height="0.9" fill="#000" fill-opacity="0.51"/>
<rect x="75.4" y="347.9" width="0.9" height="0.9" fill="#000" fill-opacity="0.33"/>
<rect x="75.8" y="341.2" width="0.9" height="0.9" fill="#000" fill-opacity="0.66"/>
<rect x="78.9" y="333.5" width="0.9" height="0.9" fill="#000" fill-opacity="0.29"/>
<rect x="75.2" y="349.7" width="0.9" height="0.9" fill="#000" fill-opacity="0.30"/>
<rect x="72.6" y="342.2" width="0.9" height="0.9" fill="#000" fill-opacity="0.73"/>
<rect x="70.9" y="336.2" width="0.9" height="0.9" fill="#000" fill-opacity="0.40"/>
<rect x="76.5" y="336.3" width="0.9" height="0.9" fill="#000" fill-opacity="0.71"/>
<rect x="80.4" y="346.8" width="0.9" height="0.9" fill="#000" fill-opacity="0.35"/>
<rect x="72.4" y="339.8" width="0.9" height="0.9" fill="#000" fill-opacity="0.33"/>
<rect x="77.0" y="337.6" width="0.9" height="0.9" fill="#000" fill-opacity="0.41"/>
<rect x="78.0" y="343.5" width="0.9" height="0.9" fill="#000" fill-opacity="0.48"/>
<rect x="75.2" y="336.7" width="0.9" height="0.9" fill="#000" fill-opacity="0.59"/>
<rect x="78.1" y="344.7" width="0.9" height="0.9" fill="#000" fill-opacity="0.48"/>
<rect x="81.1" y="339.5" width="0.9" height="0.9" fill="#000" fill-opacity="0.58"/>
<rect x="78.6" y="341.9" width="0.9" height="0.9" fill="#000" fill-opacity="0.61"/>
<rect x="76.1" y="348.2" width="0.9" height="0.9" fill="#000" fill-opacity="0.48"/>
<rect x="84.7" y="342.6" width="0.9" height="0.9" fill="#000" fill-opacity="0.65"/>
<rect x="76.9" y="348.4" width="0.9" height="0.9" fill="#000" fill-opacity="0.40"/>
<rect x="73.2" y="346.1" width="0.9" height="0.9" fill="#000" fill-opacity="0.40"/>
<rect x="74.3" y="345.9" width="0.9" height="0.9" fill="#000" fill-opacity="0.58"/>
<rect x="75.7" y="345.0" width="0.9" height="0.9" fill="#000" fill-opacity="0.62"/>
<rect x="72.5" y="352.5" width="0.9" height="0.9" fill="#000" fill-opacity="0.53"/>
<rect x="75.4" y="336.9" width="0.9" height="0.9" fill="#000" fill-opacity="0.66"/>
<rect x="77.1" y="343.1" width="0.9" height="0.9" fill="#000" fill-opacity="0.30"/>
<rect x="73.8" y="334.2" width="0.9" height="0.9" fill="#000" fill-opacity="0.34"/>
<rect x="71.3" y="347.2" width="0.9" height="0.9" fill="#000" fill-opacity="0.55"/>
<rect x="77.6" y="343.5" width="0.9" height="0.9" fill="#000" fill-opacity="0.33"/>
<rect x="77.9" y="345.2" width="0.9" height="0.9" fill="#000" fill-opacity="0.29"/>
<rect x="78.5" y="338.9" width="0.9" height="0.9" fill="#000" fill-opacity="0.51"/>
<rect x="72.8" y="334.4" width="0.9" height="0.9" fill="#000" fill-opacity="0.66"/>
<rect x="73.8" y="344.6" width="0.9" height="0.9" fill="#000" fill-opacity="0.46"/>
<rect x="78.7" y="342.0" width="0.9" height="0.9" fill="#000" fill-opacity="0.60"/>
<rect x="80.9" y="340.5" width="0.9" height="0.9" fill="#000" fill-opacity="0.58"/>
<rect x="75.4" y="340.9" width="0.9" height="0.9" fill="#000" fill-opacity="0.42"/>
<rect x="73.5" y="347.8" width="0.9" height="0.9" fill="#000" fill-opacity="0.30"/>
<rect x="73.3" y="345.8" width="0.9" height="0.9" fill="#000" fill-opacity="0.64"/>
<rect x="77.6" y="335.1" width="0.9" height="0.9" fill="#000" fill-opacity="0.33"/>
<rect x="73.2" y="340.1" width="0.9" height="0.9" fill="#000" fill-opacity="0.50"/>
<rect x="78.7" y="347.9" width="0.9" height="0.9" fill="#000" fill-opacity="0.74"/>
<rect x="71.2" y="340.7" width="0.9" height="0.9" fill="#000" fill-opacity="0.67"/>
<rect x="78.1" y="353.3" width="0.9" height="0.9" fill="#000" fill-opacity="0.56"/>
<rect x="76.2" y="343.6" width="0.9" height="0.9" fill="#000" fill-opacity="0.37"/>
<rect x="71.8" y="337.8" width="0.9" height="0.9" fill="#000" fill-opacity="0.41"/>
<rect x="78.3" y="339.4" width="0.9" height="0.9" fill="#000" fill-opacity="0.48"/>
<rect x="81.4" y="351.4" width="0.9" height="0.9" fill="#000" fill-opacity="0.32"/>
<rect x="78.8" y="337.8" width="0.9" height="0.9" fill="#000" fill-opacity="0.53"/>
<rect x="73.7" y="340.0" width="0.9" height="0.9" fill="#000" fill-opacity="0.70"/>
<rect x="81.1" y="341.0" width="0.9" height="0.9" fill="#000" fill-opacity="0.55"/>
<rect x="79.7" y="348.3" width="0.9" height="0.9" fill="#000" fill-opacity="0.39"/>
<rect x="77.5" y="339.2" width="0.9" height="0.9" fill="#000" fill-opacity="0.54"/>
<rect x="76.7" y="338.6" width="0.9" height="0.9" fill="#000" fill-opacity="0.52"/>
<rect x="76.5" y="342.1" width="0.9" height="0.9" fill="#000" fill-opacity="0.34"/>
<rect x="82.6" y="340.5" width="0.9" height="0.9" fill="#000" fill-opacity="0.58"/>
<rect x="74.3" y="348.8" width="0.9" height="0.9" fill="#000" fill-opacity="0.62"/>
<rect x="72.9" y="346.2" width="0.9" height="0.9" fill="#000" fill-opacity="0.65"/>
<rect x="77.7" y="341.9" width="0.9" height="0.9" fill="#000" fill-opacity="0.48"/>
<rect x="77.6" y="345.5" width="0.9" height="0.9" fill="#000" fill-opacity="0.53"/>
<rect x="77.4" y="347.1" width="0.9" height="0.9" fill="#000" fill-opacity="0.38"/>
<rect x="73.4" y="339.6" width="0.9" height="0.9" fill="#000" fill-opacity="0.57"/>
<rect x="80.0" y="343.3" width="0.9" height="0.9" fill="#000" fill-opacity="0.32"/>
<rect x="79.6" y="339.7" width="0.9" height="0.9" fill="#000" fill-opacity="0.48"/>
<rect x="72.4" y="345.3" width="0.9" height="0.9" fill="#000" fill-opacity="0.59"/>
<rect x="76.0" y="332.8" width="0.9" height="0.9" fill="#000" fill-opacity="0.49"/>
<rect x="81.3" y="341.2" width="0.9" height="0.9" fill="#000" fill-opacity="0.68"/>
<rect x="73.2" y="344.5" width="0.9" height="0.9" fill="#000" fill-opacity="0.53"/>
<rect x="78.7" y="337.9" width="0.9" height="0.9" fill="#000" fill-opacity="0.51"/>
<rect x="70.1" y="346.2" width="0.9" height="0.9" fill="#000" fill-opacity="0.41"/>
<rect x="80.2" y="344.3" width="0.9" height="0.9" fill="#000" fill-opacity="0.70"/>
<rect x="75.4" y="334.5" width="0.9" height="0.9" fill="#000" fill-opacity="0.63"/>
<rect x="74.5" y="348.1" width="0.9" height="0.9" fill="#000" fill-opacity="0.28"/>
<rect x="78.0" y="345.5" width="0.9" height="0.9" fill="#000" fill-opacity="0.50"/>
<rect x="75.0" y="342.5" width="0.9" height="0.9" fill="#000" fill-opacity="0.60"/>
<rect x="73.7" y="340.9" width="0.9" height="0.9" fill="#000" fill-opacity="0.40"/>
<rect x="74.1" y="343.8" width="0.9" height="0.9" fill="#000" fill-opacity="0.28"/>
<rect x="82.2" y="334.3" width="0.9" height="0.9" fill="#000" fill-opacity="0.58"/>
<rect x="77.8" y="337.5" width="0.9" height="0.9" fill="#000" fill-opacity="0.65"/>
<rect x="76.6" y="350.0" width="0.9" height="0.9" fill="#000" fill-opacity="0.53"/>
<rect x="76.9" y="340.1" width="0.9" height="0.9" fill="#000" fill-opacity="0.65"/>
<rect x="78.4" y="346.0" width="0.9" height="0.9" fill="#000" fill-opacity="0.73"/>
<rect x="78.0" y="341.5" width="0.9" height="0.9" fill="#000" fill-opacity="0.40"/>
<rect x="75.3" y="343.2" width="0.9" height="0.9" fill="#000" fill-opacity="0.70"/>
<rect x="77.0" y="336.7" width="0.9" height="0.9" fill="#000" fill-opacity="0.43"/>
<rect x="75.0" y="340.7" width="0.9" height="0.9" fill="#000" fill-opacity="0.27"/>
<rect x="77.8" y="338.8" width="0.9" height="0.9" fill="#000" fill-opacity="0.50"/>
<rect x="83.1" y="335.7" width="0.9" height="0.9" fill="#000" fill-opacity="0.49"/>
<rect x="76.5" y="345.7" width="0.9" height="0.9" fill="#000" fill-opacity="0.71"/>
<rect x="77.3" y="339.4" width="0.9" height="0.9" fill="#000" fill-opacity="0.67"/>
<rect x="73.8" y="346.2" width="0.9" height="0.9" fill="#000" fill-opacity="0.34"/>
<rect x="77.0" y="348.5" width="0.9" height="0.9" fill="#000" fill-opacity="0.35"/>
<rect x="76.5" y="340.4" width="0.9" height="0.9" fill="#000" fill-opacity="0.30"/>
<rect x="75.4" y="337.0" width="0.9" height="0.9" fill="#000" fill-opacity="0.70"/>
<rect x="78.9" y="335.5" width="0.9" height="0.9" fill="#000" fill-opacity="0.32"/>
<rect x="74.7" y="342.2" width="0.9" height="0.9" fill="#000" fill-opacity="0.36"/>
<rect x="74.2" y="349.2" width="0.9" height="0.9" fill="#000" fill-opacity="0.35"/>
<rect x="76.7" y="345.0" width="0.9" height="0.9" fill="#000" fill-opacity="0.58"/>
<rect x="76.5" y="336.6" width="0.9" height="0.9" fill="#000" fill-opacity="0.58"/>
<rect x="78.7" y="336.9" width="0.9" height="0.9" fill="#000" fill-opacity="0.36"/>
<rect x="73.7" y="352.8" width="0.9" height="0.9" fill="#000" fill-opacity="0.58"/>
<rect x="75.1" y="348.8" width="0.9" height="0.9" fill="#000" fill-opacity="0.29"/>
<rect x="78.9" y="340.9" width="0.9" height="0.9" fill="#000" fill-opacity="0.51"/>
<rect x="74.9" y="341.2" width="0.9" height="0.9" fill="#000" fill-opacity="0.55"/>
<rect x="75.3" y="345.4" width="0.9" height="0.9" fill="#000" fill-opacity="0.65"/>
<rect x="77.8" y="343.7" width="0.9" height="0.9" fill="#000" fill-opacity="0.63"/>
<rect x="75.9" y="345.7" width="0.9" height="0.9" fill="#000" fill-opacity="0.52"/>
<rect x="78.2" y="351.7" width="0.9" height="0.9" fill="#000" fill-opacity="0.74"/>
<rect x="79.0" y="342.7" width="0.9" height="0.9" fill="#000" fill-opacity="0.63"/>
<rect x="70.8" y="349.4" width="0.9" height="0.9" fill="#000" fill-opacity="0.50"/>
<rect x="77.4" y="347.5" width="0.9" height="0.9" fill="#000" fill-opacity="0.57"/>
<rect x="73.1" y="347.4" width="0.9" height="0.9" fill="#000" fill-opacity="0.64"/>
<rect x="72.4" y="340.9" width="0.9" height="0.9" fill="#000" fill-opacity="0.67"/>
<rect x="74.4" y="335.7" width="0.9" height="0.9" fill="#000" fill-opacity="0.73"/>
<rect x="78.1" y="349.5" width="0.9" height="0.9" fill="#000" fill-opacity="0.33"/>
<rect x="74.1" y="339.1" width="0.9" height="0.9" fill="#000" fill-opacity="0.47"/>
<rect x="76.5" y="332.5" width="0.9" height="0.9" fill="#000" fill-opacity="0.65"/>
<rect x="76.1" y="347.5" width="0.9" height="0.9" fill="#000" fill-opacity="0.36"/>
<rect x="72.8" y="338.6" width="0.9" height="0.9" fill="#000" fill-opacity="0.27"/>
<rect x="72.0" y="336.8" width="0.9" height="0.9" fill="#000" fill-opacity="0.54"/>
<rect x="77.1" y="339.2" width="0.9" height="0.9" fill="#000" fill-opacity="0.33"/>
<rect x="79.2" y="342.2" width="0.9" height="0.9" fill="#000" fill-opacity="0.47"/>
<rect x="73.7" y="343.0" width="0.9" height="0.9" fill="#000" fill-opacity="0.65"/>
<rect x="81.5" y="346.5" width="0.9" height="0.9" fill="#000" fill-opacity="0.53"/>
<rect x="70.9" y="339.0" width="0.9" height="0.9" fill="#000" fill-opacity="0.37"/>
<rect x="77.3" y="345.1" width="0.9" height="0.9" fill="#000" fill-opacity="0.27"/>
<rect x="74.2" y="348.2" width="0.9" height="0.9" fill="#000" fill-opacity="0.51"/>
<rect x="75.4" y="348.4" width="0.9" height="0.9" fill="#000" fill-opacity="0.29"/>
<rect x="76.6" y="338.6" width="0.9" height="0.9" fill="#000" fill-opacity="0.38"/>
<rect x="78.2" y="348.2" width="0.9" height="0.9" fill="#000" fill-opacity="0.67"/>
<rect x="76.0" y="339.7" width="0.9" height="0.9" fill="#000" fill-opacity="0.46"/>
<rect x="74.5" y="344.2" width="0.9" height="0.9" fill="#000" fill-opacity="0.74"/>
<rect x="79.0" y="343.1" width="0.9" height="0.9" fill="#000" fill-opacity="0.63"/>
<rect x="77.4" y="341.2" width="0.9" height="0.9" fill="#000" fill-opacity="0.48"/>
<rect x="75.8" y="340.0" width="0.9" height="0.9" fill="#000" fill-opacity="0.37"/>
<rect x="77.0" y="339.7" width="0.9" height="0.9" fill="#000" fill-opacity="0.45"/>
<rect x="74.9" y="346.7" width="0.9" height="0.9" fill="#000" fill-opacity="0.29"/>
<rect x="85.2" y="345.2" width="0.9" height="0.9" fill="#000" fill-opacity="0.63"/>
<rect x="75.6" y="337.8" width="0.9" height="0.9" fill="#000" fill-opacity="0.38"/>
<rect x="73.8" y="340.3" width="0.9" height="0.9" fill="#000" fill-opacity="0.48"/>
<rect x="78.3" y="339.5" width="0.9" height="0.9" fill="#000" fill-opacity="0.42"/>
<rect x="79.8" y="340.7" width="0.9" height="0.9" fill="#000" fill-opacity="0.27"/>
<rect x="72.4" y="345.8" width="0.9" height="0.9" fill="#000" fill-opacity="0.28"/>
<rect x="73.3" y="348.2" width="0.9" height="0.9" fill="#000" fill-opacity="0.68"/>
<rect x="70.7" y="335.7" width="0.9" height="0.9" fill="#000" fill-opacity="0.48"/>
<rect x="71.4" y="347.7" width="0.9" height="0.9" fill="#000" fill-opacity="0.44"/>
<rect x="76.2" y="337.9" width="0.9" height="0.9" fill="#000" fill-opacity="0.42"/>
<rect x="77.3" y="347.5" width="0.9" height="0.9" fill="#000" fill-opacity="0.33"/>
<rect x="76.4" y="345.0" width="0.9" height="0.9" fill="#000" fill-opacity="0.48"/>
<rect x="74.7" y="346.8" width="0.9" height="0.9" fill="#000" fill-opacity="0.75"/>
<rect x="73.3" y="332.1" width="0.9" height="0.9" fill="#000" fill-opacity="0.35"/>
<rect x="75.0" y="342.9" width="0.9" height="0.9" fill="#000" fill-opacity="0.60"/>
<rect x="74.3" y="344.7" width="0.9" height="0.9" fill="#000" fill-opacity="0.26"/>
<rect x="76.7" y="345.2" width="0.9" height="0.9" fill="#000" fill-opacity="0.45"/>
<rect x="79.9" y="337.7" width="0.9" height="0.9" fill="#000" fill-opacity="0.38"/>
<rect x="74.7" y="343.8" width="0.9" height="0.9" fill="#000" fill-opacity="0.72"/>
<rect x="72.7" y="348.3" width="0.9" height="0.9" fill="#000" fill-opacity="0.61"/>
<rect x="76.3" y="340.9" width="0.9" height="0.9" fill="#000" fill-opacity="0.41"/>
<rect x="74.9" y="342.9" width="0.9" height="0.9" fill="#000" fill-opacity="0.69"/>
<rect x="73.5" y="349.4" width="0.9" height="0.9" fill="#000" fill-opacity="0.51"/>
<rect x="78.5" y="343.3" width="0.9" height="0.9" fill="#000" fill-opacity="0.37"/>
<rect x="77.4" y="342.3" width="0.9" height="0.9" fill="#000" fill-opacity="0.55"/>
<rect x="78.3" y="342.4" width="0.9" height="0.9" fill="#000" fill-opacity="0.46"/>
<rect x="74.3" y="340.7" width="0.9" height="0.9" fill="#000" fill-opacity="0.60"/>
<rect x="75.5" y="349.8" width="0.9" height="0.9" fill="#000" fill-opacity="0.58"/>
<rect x="77.0" y="344.3" width="0.9" height="0.9" fill="#000" fill-opacity="0.39"/>
<rect x="75.1" y="336.3" width="0.9" height="0.9" fill="#000" fill-opacity="0.44"/>
<rect x="77.2" y="338.7" width="0.9" height="0.9" fill="#000" fill-opacity="0.40"/>
<rect x="74.7" y="344.5" width="0.9" height="0.9" fill="#000" fill-opacity="0.27"/>
<rect x="79.8" y="342.6" width="0.9" height="0.9" fill="#000" fill-opacity="0.53"/>
<rect x="74.5" y="348.9" width="0.9" height="0.9" fill="#000" fill-opacity="0.71"/>
<rect x="76.7" y="349.3" width="0.9" height="0.9" fill="#000" fill-opacity="0.58"/>
<rect x="81.4" y="338.6" width="0.9" height="0.9" fill="#000" fill-opacity="0.37"/>
<rect x="75.0" y="339.8" width="0.9" height="0.9" fill="#000" fill-opacity="0.46"/>
<rect x="75.0" y="342.6" width="0.9" height="0.9" fill="#000" fill-opacity="0.44"/>
<rect x="74.2" y="346.9" width="0.9" height="0.9" fill="#000" fill-opacity="0.39"/>
<rect x="77.4" y="345.9" width="0.9" height="0.9" fill="#000" fill-opacity="0.49"/>
<rect x="77.9" y="348.2" width="0.9" height="0.9" fill="#000" fill-opacity="0.37"/>
<rect x="78.0" y="344.1" width="0.9" height="0.9" fill="#000" fill-opacity="0.46"/>
<rect x="78.0" y="347.1" width="0.9" height="0.9" fill="#000" fill-opacity="0.60"/>
<rect x="71.5" y="338.9" width="0.9" height="0.9" fill="#000" fill-opacity="0.26"/>
<rect x="73.7" y="344.6" width="0.9" height="0.9" fill="#000" fill-opacity="0.28"/>
<rect x="75.0" y="342.5" width="0.9" height="0.9" fill="#000" fill-opacity="0.50"/>
<rect x="73.0" y="338.5" width="0.9" height="0.9" fill="#000" fill-opacity="0.41"/>
<rect x="75.8" y="342.6" width="0.9" height="0.9" fill="#000" fill-opacity="0.42"/>
<rect x="78.7" y="337.3" width="0.9" height="0.9" fill="#000" fill-opacity="0.38"/>
<rect x="74.9" y="338.6" width="0.9" height="0.9" fill="#000" fill-opacity="0.48"/>
<rect x="70.4" y="332.9" width="0.9" height="0.9" fill="#000" fill-opacity="0.43"/>
<rect x="69.7" y="335.8" width="0.9" height="0.9" fill="#000" fill-opacity="0.64"/>
<rect x="73.0" y="336.3" width="0.9" height="0.9" fill="#000" fill-opacity="0.46"/>
<rect x="73.8" y="343.6" width="0.9" height="0.9" fill="#000" fill-opacity="0.66"/>
<rect x="77.9" y="338.0" width="0.9" height="0.9" fill="#000" fill-opacity="0.70"/>
<rect x="77.3" y="342.2" width="0.9" height="0.9" fill="#000" fill-opacity="0.50"/>
<rect x="74.8" y="346.1" width="0.9" height="0.9" fill="#000" fill-opacity="0.74"/>
<rect x="76.9" y="344.2" width="0.9" height="0.9" fill="#000" fill-opacity="0.36"/>
<rect x="74.9" y="338.1" width="0.9" height="0.9" fill="#000" fill-opacity="0.25"/>
<rect x="73.0" y="340.1" width="0.9" height="0.9" fill="#000" fill-opacity="0.37"/>
<rect x="71.6" y="341.8" width="0.9" height="0.9" fill="#000" fill-opacity="0.52"/>
<rect x="73.2" y="336.8" width="0.9" height="0.9" fill="#000" fill-opacity="0.67"/>
<rect x="78.4" y="340.6" width="0.9" height="0.9" fill="#000" fill-opacity="0.42"/>
<rect x="77.7" y="338.5" width="0.9" height="0.9" fill="#000" fill-opacity="0.61"/>
<rect x="74.3" y="334.0" width="0.9" height="0.9" fill="#000" fill-opacity="0.73"/>
<rect x="76.6" y="338.8" width="0.9" height="0.9" fill="#000" fill-opacity="0.56"/>
<rect x="72.1" y="341.9" width="0.9" height="0.9" fill="#000" fill-opacity="0.43"/>
<rect x="74.7" y="349.9" width="0.9" height="0.9" fill="#000" fill-opacity="0.52"/>
<rect x="76.0" y="345.4" width="0.9" height="0.9" fill="#000" fill-opacity="0.41"/>
<rect x="77.3" y="347.1" width="0.9" height="0.9" fill="#000" fill-opacity="0.31"/>
<rect x="76.8" y="342.3" width="0.9" height="0.9" fill="#000" fill-opacity="0.30"/>
<rect x="75.4" y="339.1" width="0.9" height="0.9" fill="#000" fill-opacity="0.48"/>
<rect x="76.3" y="335.6" width="0.9" height="0.9" fill="#000" fill-opacity="0.33"/>
<rect x="79.7" y="333.7" width="0.9" height="0.9" fill="#000" fill-opacity="0.28"/>
<rect x="75.7" y="347.7" width="0.9" height="0.9" fill="#000" fill-opacity="0.65"/>
<rect x="72.2" y="346.7" width="0.9" height="0.9" fill="#000" fill-opacity="0.38"/>
<rect x="75.2" y="337.0" width="0.9" height="0.9" fill="#000" fill-opacity="0.42"/>
<rect x="77.6" y="335.6" width="0.9" height="0.9" fill="#000" fill-opacity="0.46"/>
<rect x="74.7" y="334.5" width="0.9" height="0.9" fill="#000" fill-opacity="0.67"/>
<rect x="76.3" y="338.9" width="0.9" height="0.9" fill="#000" fill-opacity="0.44"/>
<rect x="74.8" y="338.2" width="0.9" height="0.9" fill="#000" fill-opacity="0.34"/>
<rect x="79.6" y="342.1" width="0.9" height="0.9" fill="#000" fill-opacity="0.72"/>
<rect x="77.3" y="341.0" width="0.9" height="0.9" fill="#000" fill-opacity="0.59"/>
<rect x="72.2" y="345.1" width="0.9" height="0.9" fill="#000" fill-opacity="0.45"/>
<rect x="83.7" y="335.2" width="0.9" height="0.9" fill="#000" fill-opacity="0.27"/>
<rect x="75.5" y="339.0" width="0.9" height="0.9" fill="#000" fill-opacity="0.27"/>
<rect x="74.7" y="349.7" width="0.9" height="0.9" fill="#000" fill-opacity="0.75"/>
<rect x="77.7" y="344.7" width="0.9" height="0.9" fill="#000" fill-opacity="0.26"/>
<rect x="72.6" y="339.9" width="0.9" height="0.9" fill="#000" fill-opacity="0.44"/>
<rect x="73.9" y="350.2" width="0.9" height="0.9" fill="#000" fill-opacity="0.67"/>
<rect x="75.2" y="346.6" width="0.9" height="0.9" fill="#000" fill-opacity="0.56"/>
<rect x="72.4" y="346.6" width="0.9" height="0.9" fill="#000" fill-opacity="0.52"/>
<rect x="76.3" y="338.7" width="0.9" height="0.9" fill="#000" fill-opacity="0.34"/>
<rect x="81.1" y="349.0" width="0.9" height="0.9" fill="#000" fill-opacity="0.38"/>
<rect x="74.3" y="341.7" width="0.9" height="0.9" fill="#000" fill-opacity="0.41"/>
<rect x="79.5" y="342.3" width="0.9" height="0.9" fill="#000" fill-opacity="0.32"/>
<rect x="74.2" y="338.6" width="0.9" height="0.9" fill="#000" fill-opacity="0.36"/>
<rect x="73.0" y="342.1" width="0.9" height="0.9" fill="#000" fill-opacity="0.38"/>
<rect x="76.8" y="342.1" width="0.9" height="0.9" fill="#000" fill-opacity="0.70"/>
<rect x="75.4" y="343.5" width="0.9" height="0.9" fill="#000" fill-opacity="0.34"/>
<rect x="65.9" y="343.3" width="0.9" height="0.9" fill="#000" fill-opacity="0.35"/>
<rect x="78.0" y="337.1" width="0.9" height="0.9" fill="#000" fill-opacity="0.46"/>
<rect x="76.8" y="336.6" width="0.9" height="0.9" fill="#000" fill-opacity="0.28"/>
<rect x="71.8" y="339.1" width="0.9" height="0.9" fill="#000" fill-opacity="0.56"/>
<rect x="74.6" y="353.6" width="0.9" height="0.9" fill="#000" fill-opacity="0.68"/>
<rect x="78.9" y="341.3" width="0.9" height="0.9" fill="#000" fill-opacity="0.67"/>
<rect x="75.5" y="338.3" width="0.9" height="0.9" fill="#000" fill-opacity="0.26"/>
<rect x="76.5" y="343.8" width="0.9" height="0.9" fill="#000" fill-opacity="0.29"/>
<rect x="72.7" y="348.2" width="0.9" height="0.9" fill="#000" fill-opacity="0.41"/>
<rect x="75.4" y="341.4" width="0.9" height="0.9" fill="#000" fill-opacity="0.36"/>
<rect x="76.2" y="341.3" width="0.9" height="0.9" fill="#000" fill-opacity="0.51"/>
<rect x="77.7" y="332.9" width="0.9" height="0.9" fill="#000" fill-opacity="0.62"/>
<rect x="71.6" y="347.0" width="0.9" height="0.9" fill="#000" fill-opacity="0.66"/>
<rect x="81.5" y="349.0" width="0.9" height="0.9" fill="#000" fill-opacity="0.45"/>
<rect x="75.2" y="337.7" width="0.9" height="0.9" fill="#000" fill-opacity="0.70"/>
<rect x="79.6" y="342.5" width="0.9" height="0.9" fill="#000" fill-opacity="0.36"/>
<rect x="73.7" y="344.7" width="0.9" height="0.9" fill="#000" fill-opacity="0.58"/>
<rect x="76.8" y="336.9" width="0.9" height="0.9" fill="#000" fill-opacity="0.57"/>
<rect x="74.4" y="344.8" width="0.9" height="0.9" fill="#000" fill-opacity="0.70"/>
<rect x="75.2" y="343.6" width="0.9" height="0.9" fill="#000" fill-opacity="0.42"/>
<rect x="75.7" y="337.9" width="0.9" height="0.9" fill="#000" fill-opacity="0.62"/>
<rect x="71.6" y="339.3" width="0.9" height="0.9" fill="#000" fill-opacity="0.34"/>
<rect x="77.1" y="343.3" width="0.9" height="0.9" fill="#000" fill-opacity="0.43"/>
<rect x="75.4" y="341.8" width="0.9" height="0.9" fill="#000" fill-opacity="0.50"/>
<rect x="73.7" y="344.1" width="0.9" height="0.9" fill="#000" fill-opacity="0.52"/>
<rect x="77.7" y="340.5" width="0.9" height="0.9" fill="#000" fill-opacity="0.69"/>
<rect x="73.7" y="349.4" width="0.9" height="0.9" fill="#000" fill-opacity="0.30"/>
<rect x="78.9" y="341.1" width="0.9" height="0.9" fill="#000" fill-opacity="0.73"/>
<rect x="76.4" y="346.7" width="0.9" height="0.9" fill="#000" fill-opacity="0.60"/>
<rect x="76.8" y="345.2" width="0.9" height="0.9" fill="#000" fill-opacity="0.59"/>
<rect x="78.2" y="340.0" width="0.9" height="0.9" fill="#000" fill-opacity="0.34"/>
<rect x="70.3" y="353.8" width="0.9" height="0.9" fill="#000" fill-opacity="0.32"/>
<rect x="73.9" y="337.7" width="0.9" height="0.9" fill="#000" fill-opacity="0.57"/>
<rect x="76.7" y="348.5" width="0.9" height="0.9" fill="#000" fill-opacity="0.69"/>
<rect x="78.3" y="335.8" width="0.9" height="0.9" fill="#000" fill-opacity="0.50"/>
<rect x="74.5" y="340.4" width="0.9" height="0.9" fill="#000" fill-opacity="0.67"/>
<rect x="74.6" y="336.2" width="0.9" height="0.9" fill="#000" fill-opacity="0.58"/>
<rect x="73.3" y="344.0" width="0.9" height="0.9" fill="#000" fill-opacity="0.37"/>
<rect x="72.7" y="337.5" width="0.9" height="0.9" fill="#000" fill-opacity="0.51"/>
<rect x="79.8" y="343.0" width="0.9" height="0.9" fill="#000" fill-opacity="0.47"/>
<rect x="72.6" y="337.6" width="0.9" height="0.9" fill="#000" fill-opacity="0.72"/>
<rect x="77.7" y="346.3" width="0.9" height="0.9" fill="#000" fill-opacity="0.75"/>
<rect x="75.6" y="337.0" width="0.9" height="0.9" fill="#000" fill-opacity="0.62"/>
<rect x="78.7" y="341.1" width="0.9" height="0.9" fill="#000" fill-opacity="0.68"/>
<rect x="82.0" y="352.8" width="0.9" height="0.9" fill="#000" fill-opacity="0.50"/>
<rect x="76.4" y="351.4" width="0.9" height="0.9" fill="#000" fill-opacity="0.57"/>
<rect x="80.8" y="337.8" width="0.9" height="0.9" fill="#000" fill-opacity="0.65"/>
<rect x="66.6" y="340.3" width="0.9" height="0.9" fill="#000" fill-opacity="0.28"/>
<rect x="78.9" y="335.5" width="0.9" height="0.9" fill="#000" fill-opacity="0.38"/>
<rect x="76.9" y="336.1" width="0.9" height="0.9" fill="#000" fill-opacity="0.52"/>
<rect x="77.1" y="338.9" width="0.9" height="0.9" fill="#000" fill-opacity="0.39"/>
<rect x="75.1" y="339.9" width="0.9" height="0.9" fill="#000" fill-opacity="0.53"/>
<rect x="76.6" y="335.6" width="0.9" height="0.9" fill="#000" fill-opacity="0.37"/>
<rect x="76.3" y="335.0" width="0.9" height="0.9" fill="#000" fill-opacity="0.70"/>
<rect x="76.3" y="338.6" width="0.9" height="0.9" fill="#000" fill-opacity="0.43"/>
<rect x="76.4" y="342.3" width="0.9" height="0.9" fill="#000" fill-opacity="0.42"/>
<rect x="79.4" y="334.1" width="0.9" height="0.9" fill="#000" fill-opacity="0.31"/>
<rect x="77.0" y="346.2" width="0.9" height="0.9" fill="#000" fill-opacity="0.67"/>
<rect x="71.2" y="334.0" width="0.9" height="0.9" fill="#000" fill-opacity="0.29"/>
<rect x="77.8" y="341.2" width="0.9" height="0.9" fill="#000" fill-opacity="0.56"/>
<rect x="79.1" y="335.6" width="0.9" height="0.9" fill="#000" fill-opacity="0.35"/>
<rect x="74.3" y="336.7" width="0.9" height="0.9" fill="#000" fill-opacity="0.26"/>
<rect x="74.5" y="345.3" width="0.9" height="0.9" fill="#000" fill-opacity="0.56"/>
<rect x="75.1" y="348.5" width="0.9" height="0.9" fill="#000" fill-opacity="0.60"/>
<rect x="76.4" y="344.0" width="0.9" height="0.9" fill="#000" fill-opacity="0.60"/>
<rect x="74.3" y="342.1" width="0.9" height="0.9" fill="#000" fill-opacity="0.31"/>
<rect x="79.5" y="338.9" width="0.9" height="0.9" fill="#000" fill-opacity="0.43"/>
<rect x="78.9" y="357.4" width="0.9" height="0.9" fill="#000" fill-opacity="0.60"/>
<rect x="75.6" y="336.6" width="0.9" height="0.9" fill="#000" fill-opacity="0.41"/>
<rect x="74.4" y="343.1" width="0.9" height="0.9" fill="#000" fill-opacity="0.57"/>
<rect x="71.0" y="345.9" width="0.9" height="0.9" fill="#000" fill-opacity="0.45"/>
<rect x="72.5" y="343.2" width="0.9" height="0.9" fill="#000" fill-opacity="0.72"/>
<rect x="73.2" y="348.2" width="0.9" height="0.9" fill="#000" fill-opacity="0.37"/>
<rect x="73.7" y="339.5" width="0.9" height="0.9" fill="#000" fill-opacity="0.69"/>
<rect x="74.5" y="351.4" width="0.9" height="0.9" fill="#000" fill-opacity="0.59"/>
<rect x="69.3" y="344.9" width="0.9" height="0.9" fill="#000" fill-opacity="0.44"/>
<rect x="75.6" y="334.5" width="0.9" height="0.9" fill="#000" fill-opacity="0.47"/>
<rect x="78.6" y="343.6" width="0.9" height="0.9" fill="#000" fill-opacity="0.39"/>
<rect x="69.1" y="346.2" width="0.9" height="0.9" fill="#000" fill-opacity="0.40"/>
<rect x="74.3" y="334.2" width="0.9" height="0.9" fill="#000" fill-opacity="0.37"/>
<rect x="74.5" y="343.0" width="0.9" height="0.9" fill="#000" fill-opacity="0.70"/>
<rect x="75.8" y="346.9" width="0.9" height="0.9" fill="#000" fill-opacity="0.42"/>
<rect x="78.2" y="332.3" width="0.9" height="0.9" fill="#000" fill-opacity="0.55"/>
<rect x="74.5" y="340.8" width="0.9" height="0.9" fill="#000" fill-opacity="0.70"/>
<rect x="78.1" y="344.1" width="0.9" height="0.9" fill="#000" fill-opacity="0.44"/>
<rect x="75.1" y="333.9" width="0.9" height="0.9" fill="#000" fill-opacity="0.42"/>
<rect x="81.5" y="333.9" width="0.9" height="0.9" fill="#000" fill-opacity="0.26"/>
<rect x="73.6" y="337.2" width="0.9" height="0.9" fill="#000" fill-opacity="0.43"/>
<rect x="73.3" y="342.5" width="0.9" height="0.9" fill="#000" fill-opacity="0.59"/>
<rect x="69.7" y="333.0" width="0.9" height="0.9" fill="#000" fill-opacity="0.74"/>
<rect x="78.7" y="341.3" width="0.9" height="0.9" fill="#000" fill-opacity="0.66"/>
<rect x="73.2" y="335.0" width="0.9" height="0.9" fill="#000" fill-opacity="0.75"/>
<rect x="78.8" y="343.9" width="0.9" height="0.9" fill="#000" fill-opacity="0.45"/>
<rect x="74.7" y="338.5" width="0.9" height="0.9" fill="#000" fill-opacity="0.74"/>
<rect x="76.5" y="346.3" width="0.9" height="0.9" fill="#000" fill-opacity="0.32"/>
<rect x="72.0" y="346.8" width="0.9" height="0.9" fill="#000" fill-opacity="0.29"/>
<rect x="77.9" y="348.0" width="0.9" height="0.9" fill="#000" fill-opacity="0.56"/>
<rect x="75.7" y="337.5" width="0.9" height="0.9" fill="#000" fill-opacity="0.66"/>
<rect x="75.2" y="332.6" width="0.9" height="0.9" fill="#000" fill-opacity="0.31"/>
<rect x="75.3" y="341.7" width="0.9" height="0.9" fill="#000" fill-opacity="0.68"/>
<rect x="81.6" y="337.7" width="0.9" height="0.9" fill="#000" fill-opacity="0.26"/>
<rect x="73.7" y="346.7" width="0.9" height="0.9" fill="#000" fill-opacity="0.52"/>
<rect x="79.7" y="347.4" width="0.9" height="0.9" fill="#000" fill-opacity="0.40"/>
<rect x="74.3" y="341.4" width="0.9" height="0.9" fill="#000" fill-opacity="0.53"/>
<rect x="76.7" y="343.1" width="0.9" height="0.9" fill="#000" fill-opacity="0.51"/>
<rect x="74.4" y="350.2" width="0.9" height="0.9" fill="#000" fill-opacity="0.37"/>
<rect x="75.0" y="342.4" width="0.9" height="0.9" fill="#000" fill-opacity="0.36"/>
<rect x="72.3" y="343.5" width="0.9" height="0.9" fill="#000" fill-opacity="0.48"/>
<rect x="76.6" y="339.5" width="0.9" height="0.9" fill="#000" fill-opacity="0.68"/>
<rect x="80.1" y="352.9" width="0.9" height="0.9" fill="#000" fill-opacity="0.51"/>
<rect x="72.5" y="345.5" width="0.9" height="0.9" fill="#000" fill-opacity="0.68"/>
<rect x="78.7" y="340.3" width="0.9" height="0.9" fill="#000" fill-opacity="0.26"/>
<rect x="78.8" y="349.4" width="0.9" height="0.9" fill="#000" fill-opacity="0.62"/>
<rect x="75.4" y="338.5" width="0.9" height="0.9" fill="#000" fill-opacity="0.52"/>
<rect x="77.2" y="341.9" width="0.9" height="0.9" fill="#000" fill-opacity="0.40"/>
<rect x="79.9" y="339.9" width="0.9" height="0.9" fill="#000" fill-opacity="0.67"/>
<rect x="78.7" y="343.0" width="0.9" height="0.9" fill="#000" fill-opacity="0.29"/>
<rect x="75.7" y="344.0" width="0.9" height="0.9" fill="#000" fill-opacity="0.71"/>
<rect x="74.2" y="346.8" width="0.9" height="0.9" fill="#000" fill-opacity="0.58"/>
<rect x="81.1" y="333.3" width="0.9" height="0.9" fill="#000" fill-opacity="0.53"/>
<rect x="69.5" y="341.4" width="0.9" height="0.9" fill="#000" fill-opacity="0.45"/>
<rect x="74.3" y="349.6" width="0.9" height="0.9" fill="#000" fill-opacity="0.38"/>
<rect x="73.7" y="345.6" width="0.9" height="0.9" fill="#000" fill-opacity="0.49"/>
<rect x="73.9" y="345.8" width="0.9" height="0.9" fill="#000" fill-opacity="0.48"/>
<rect x="81.0" y="344.5" width="0.9" height="0.9" fill="#000" fill-opacity="0.28"/>
<rect x="72.2" y="340.4" width="0.9" height="0.9" fill="#000" fill-opacity="0.45"/>
<rect x="76.0" y="343.8" width="0.9" height="0.9" fill="#000" fill-opacity="0.44"/>
<rect x="74.5" y="347.0" width="0.9" height="0.9" fill="#000" fill-opacity="0.37"/>
<rect x="75.8" y="335.5" width="0.9" height="0.9" fill="#000" fill-opacity="0.25"/>
<rect x="69.5" y="349.0" width="0.9" height="0.9" fill="#000" fill-opacity="0.25"/>
<rect x="69.7" y="334.2" width="0.9" height="0.9" fill="#000" fill-opacity="0.43"/>
<rect x="73.5" y="338.6" width="0.9" height="0.9" fill="#000" fill-opacity="0.40"/>
<rect x="72.8" y="337.1" width="0.9" height="0.9" fill="#000" fill-opacity="0.41"/>
<rect x="72.3" y="341.6" width="0.9" height="0.9" fill="#000" fill-opacity="0.63"/>
<rect x="77.0" y="342.3" width="0.9" height="0.9" fill="#000" fill-opacity="0.38"/>
<rect x="75.1" y="350.7" width="0.9" height="0.9" fill="#000" fill-opacity="0.46"/>
<rect x="77.7" y="337.4" width="0.9" height="0.9" fill="#000" fill-opacity="0.39"/>
<rect x="75.3" y="339.5" width="0.9" height="0.9" fill="#000" fill-opacity="0.74"/>
<rect x="77.1" y="337.5" width="0.9" height="0.9" fill="#000" fill-opacity="0.41"/>
<rect x="78.0" y="333.2" width="0.9" height="0.9" fill="#000" fill-opacity="0.57"/>
<rect x="80.4" y="344.6" width="0.9" height="0.9" fill="#000" fill-opacity="0.27"/>
<rect x="73.2" y="336.8" width="0.9" height="0.9" fill="#000" fill-opacity="0.71"/>
<rect x="75.4" y="340.7" width="0.9" height="0.9" fill="#000" fill-opacity="0.72"/>
<rect x="75.9" y="334.7" width="0.9" height="0.9" fill="#000" fill-opacity="0.25"/>
<rect x="75.6" y="336.1" width="0.9" height="0.9" fill="#000" fill-opacity="0.59"/>
<rect x="82.2" y="340.3" width="0.9" height="0.9" fill="#000" fill-opacity="0.29"/>
<rect x="76.4" y="336.0" width="0.9" height="0.9" fill="#000" fill-opacity="0.63"/>
<rect x="73.5" y="345.4" width="0.9" height="0.9" fill="#000" fill-opacity="0.47"/>
<rect x="77.7" y="344.6" width="0.9" height="0.9" fill="#000" fill-opacity="0.62"/>
<rect x="77.1" y="342.6" width="0.9" height="0.9" fill="#000" fill-opacity="0.67"/>
<rect x="74.0" y="335.8" width="0.9" height="0.9" fill="#000" fill-opacity="0.31"/>
<rect x="77.6" y="344.5" width="0.9" height="0.9" fill="#000" fill-opacity="0.73"/>
<rect x="69.7" y="337.2" width="0.9" height="0.9" fill="#000" fill-opacity="0.36"/>
<rect x="62.1" y="342.5" width="0.9" height="0.9" fill="#444" fill-opacity="0.19"/>
<rect x="69.9" y="347.1" width="0.9" height="0.9" fill="#444" fill-opacity="0.32"/>
<rect x="55.5" y="345.7" width="0.9" height="0.9" fill="#444" fill-opacity="0.39"/>
<rect x="70.8" y="349.8" width="0.9" height="0.9" fill="#444" fill-opacity="0.32"/>
<rect x="66.7" y="344.3" width="0.9" height="0.9" fill="#444" fill-opacity="0.19"/>
<rect x="67.6" y="352.1" width="0.9" height="0.9" fill="#444" fill-opacity="0.21"/>
<rect x="65.0" y="349.4" width="0.9" height="0.9" fill="#444" fill-opacity="0.21"/>
<rect x="60.9" y="351.3" width="0.9" height="0.9" fill="#444" fill-opacity="0.36"/>
<rect x="63.8" y="345.3" width="0.9" height="0.9" fill="#444" fill-opacity="0.44"/>
<rect x="61.1" y="351.2" width="0.9" height="0.9" fill="#444" fill-opacity="0.35"/>
<rect x="63.2" y="351.3" width="0.9" height="0.9" fill="#444" fill-opacity="0.39"/>
<rect x="59.0" y="348.2" width="0.9" height="0.9" fill="#444" fill-opacity="0.24"/>
<rect x="67.4" y="346.3" width="0.9" height="0.9" fill="#444" fill-opacity="0.17"/>
<rect x="69.0" y="347.4" width="0.9" height="0.9" fill="#444" fill-opacity="0.28"/>
<rect x="67.2" y="344.5" width="0.9" height="0.9" fill="#444" fill-opacity="0.35"/>
<rect x="71.6" y="350.3" width="0.9" height="0.9" fill="#444" fill-opacity="0.47"/>
<rect x="62.7" y="346.2" width="0.9" height="0.9" fill="#444" fill-opacity="0.41"/>
<rect x="56.7" y="348.7" width="0.9" height="0.9" fill="#444" fill-opacity="0.26"/>
<rect x="69.4" y="353.3" width="0.9" height="0.9" fill="#444" fill-opacity="0.35"/>
<rect x="64.4" y="349.6" width="0.9" height="0.9" fill="#444" fill-opacity="0.27"/>
<rect x="57.6" y="353.7" width="0.9" height="0.9" fill="#444" fill-opacity="0.43"/>
<rect x="56.7" y="346.8" width="0.9" height="0.9" fill="#444" fill-opacity="0.42"/>
<rect x="58.7" y="349.7" width="0.9" height="0.9" fill="#444" fill-opacity="0.36"/>
<rect x="57.1" y="352.3" width="0.9" height="0.9" fill="#444" fill-opacity="0.42"/>
<rect x="64.9" y="354.4" width="0.9" height="0.9" fill="#444" fill-opacity="0.39"/>
<rect x="61.2" y="344.2" width="0.9" height="0.9" fill="#444" fill-opacity="0.48"/>
<rect x="67.2" y="346.9" width="0.9" height="0.9" fill="#444" fill-opacity="0.40"/>
<rect x="59.5" y="354.6" width="0.9" height="0.9" fill="#444" fill-opacity="0.24"/>
<rect x="55.3" y="346.1" width="0.9" height="0.9" fill="#444" fill-opacity="0.25"/>
<rect x="59.3" y="347.9" width="0.9" height="0.9" fill="#444" fill-opacity="0.20"/>
<rect x="63.2" y="348.1" width="0.9" height="0.9" fill="#444" fill-opacity="0.25"/>
<rect x="63.7" y="351.1" width="0.9" height="0.9" fill="#444" fill-opacity="0.46"/>
<rect x="57.7" y="352.5" width="0.9" height="0.9" fill="#444" fill-opacity="0.36"/>
<rect x="64.2" y="343.6" width="0.9" height="0.9" fill="#444" fill-opacity="0.41"/>
<rect x="64.1" y="344.7" width="0.9" height="0.9" fill="#444" fill-opacity="0.42"/>
<rect x="59.4" y="342.4" width="0.9" height="0.9" fill="#444" fill-opacity="0.17"/>
<rect x="70.9" y="344.8" width="0.9" height="0.9" fill="#444" fill-opacity="0.23"/>
<rect x="62.7" y="352.8" width="0.9" height="0.9" fill="#444" fill-opacity="0.28"/>
<rect x="67.4" y="352.1" width="0.9" height="0.9" fill="#444" fill-opacity="0.35"/>
<rect x="60.9" y="347.2" width="0.9" height="0.9" fill="#444" fill-opacity="0.23"/>
<rect x="71.1" y="354.3" width="0.9" height="0.9" fill="#444" fill-opacity="0.38"/>
<rect x="56.2" y="353.4" width="0.9" height="0.9" fill="#444" fill-opacity="0.47"/>
<rect x="56.7" y="347.0" width="0.9" height="0.9" fill="#444" fill-opacity="0.50"/>
<rect x="60.3" y="347.9" width="0.9" height="0.9" fill="#444" fill-opacity="0.46"/>
<rect x="56.0" y="347.9" width="0.9" height="0.9" fill="#444" fill-opacity="0.16"/>
<rect x="64.7" y="347.5" width="0.9" height="0.9" fill="#444" fill-opacity="0.49"/>
<rect x="66.6" y="351.9" width="0.9" height="0.9" fill="#444" fill-opacity="0.33"/>
<rect x="56.3" y="344.1" width="0.9" height="0.9" fill="#444" fill-opacity="0.33"/>
<rect x="58.1" y="345.5" width="0.9" height="0.9" fill="#444" fill-opacity="0.32"/>
<rect x="58.4" y="348.0" width="0.9" height="0.9" fill="#444" fill-opacity="0.40"/>
<rect x="62.1" y="347.2" width="0.9" height="0.9" fill="#444" fill-opacity="0.32"/>
<rect x="64.5" y="348.6" width="0.9" height="0.9" fill="#444" fill-opacity="0.49"/>
<rect x="64.5" y="350.3" width="0.9" height="0.9" fill="#444" fill-opacity="0.27"/>
<rect x="66.9" y="350.5" width="0.9" height="0.9" fill="#444" fill-opacity="0.48"/>
<rect x="71.6" y="355.4" width="0.9" height="0.9" fill="#444" fill-opacity="0.45"/>
<rect x="70.9" y="346.2" width="0.9" height="0.9" fill="#444" fill-opacity="0.16"/>
<rect x="63.3" y="344.4" width="0.9" height="0.9" fill="#444" fill-opacity="0.36"/>
<rect x="65.4" y="345.9" width="0.9" height="0.9" fill="#444" fill-opacity="0.48"/>
<rect x="56.5" y="340.5" width="0.9" height="0.9" fill="#444" fill-opacity="0.16"/>
<rect x="56.9" y="347.5" width="0.9" height="0.9" fill="#444" fill-opacity="0.45"/>
<rect x="71.3" y="349.3" width="0.9" height="0.9" fill="#444" fill-opacity="0.44"/>
<rect x="66.7" y="348.6" width="0.9" height="0.9" fill="#444" fill-opacity="0.33"/>
<rect x="64.9" y="348.8" width="0.9" height="0.9" fill="#444" fill-opacity="0.15"/>
<rect x="56.2" y="342.7" width="0.9" height="0.9" fill="#444" fill-opacity="0.43"/>
<rect x="71.6" y="350.1" width="0.9" height="0.9" fill="#444" fill-opacity="0.27"/>
<rect x="60.9" y="345.7" width="0.9" height="0.9" fill="#444" fill-opacity="0.16"/>
<rect x="68.1" y="348.2" width="0.9" height="0.9" fill="#444" fill-opacity="0.33"/>
<rect x="60.7" y="352.7" width="0.9" height="0.9" fill="#444" fill-opacity="0.39"/>
<rect x="62.7" y="349.1" width="0.9" height="0.9" fill="#444" fill-opacity="0.21"/>
<rect x="57.5" y="355.1" width="0.9" height="0.9" fill="#444" fill-opacity="0.24"/>
<rect x="63.1" y="349.1" width="0.9" height="0.9" fill="#444" fill-opacity="0.23"/>
<rect x="66.1" y="345.7" width="0.9" height="0.9" fill="#444" fill-opacity="0.24"/>
<rect x="63.9" y="348.3" width="0.9" height="0.9" fill="#444" fill-opacity="0.21"/>
<rect x="58.9" y="355.0" width="0.9" height="0.9" fill="#444" fill-opacity="0.26"/>
<rect x="60.6" y="347.8" width="0.9" height="0.9" fill="#444" fill-opacity="0.43"/>
<rect x="64.2" y="343.8" width="0.9" height="0.9" fill="#444" fill-opacity="0.18"/>
<rect x="68.0" y="348.6" width="0.9" height="0.9" fill="#444" fill-opacity="0.30"/>
<rect x="71.8" y="350.7" width="0.9" height="0.9" fill="#444" fill-opacity="0.28"/>
<rect x="61.1" y="356.8" width="0.9" height="0.9" fill="#444" fill-opacity="0.29"/>
<rect x="57.3" y="343.3" width="0.9" height="0.9" fill="#444" fill-opacity="0.43"/>
<rect x="68.3" y="345.5" width="0.9" height="0.9" fill="#444" fill-opacity="0.28"/>
<rect x="59.9" y="353.3" width="0.9" height="0.9" fill="#444" fill-opacity="0.36"/>
<rect x="67.6" y="342.7" width="0.9" height="0.9" fill="#444" fill-opacity="0.15"/>
<rect x="63.5" y="349.4" width="0.9" height="0.9" fill="#444" fill-opacity="0.28"/>
<rect x="56.1" y="350.0" width="0.9" height="0.9" fill="#444" fill-opacity="0.22"/>
<rect x="69.9" y="347.6" width="0.9" height="0.9" fill="#444" fill-opacity="0.49"/>
<rect x="70.8" y="344.5" width="0.9" height="0.9" fill="#444" fill-opacity="0.20"/>
<rect x="67.1" y="354.7" width="0.9" height="0.9" fill="#444" fill-opacity="0.48"/>
<rect x="58.3" y="351.7" width="0.9" height="0.9" fill="#444" fill-opacity="0.46"/>
<rect x="67.3" y="352.1" width="0.9" height="0.9" fill="#444" fill-opacity="0.48"/>
<rect x="62.7" y="347.4" width="0.9" height="0.9" fill="#444" fill-opacity="0.25"/>
<rect x="71.0" y="349.7" width="0.9" height="0.9" fill="#444" fill-opacity="0.18"/>
<rect x="58.1" y="347.9" width="0.9" height="0.9" fill="#444" fill-opacity="0.26"/>
<rect x="58.1" y="349.3" width="0.9" height="0.9" fill="#444" fill-opacity="0.19"/>
<rect x="64.0" y="344.5" width="0.9" height="0.9" fill="#444" fill-opacity="0.42"/>
<rect x="64.0" y="347.5" width="0.9" height="0.9" fill="#444" fill-opacity="0.48"/>
<rect x="56.4" y="348.7" width="0.9" height="0.9" fill="#444" fill-opacity="0.26"/>
<rect x="67.9" y="349.8" width="0.9" height="0.9" fill="#444" fill-opacity="0.47"/>
<rect x="63.6" y="350.0" width="0.9" height="0.9" fill="#444" fill-opacity="0.35"/>
<rect x="60.0" y="350.9" width="0.9" height="0.9" fill="#444" fill-opacity="0.43"/>
<rect x="71.5" y="344.3" width="0.9" height="0.9" fill="#444" fill-opacity="0.45"/>
<rect x="62.9" y="349.6" width="0.9" height="0.9" fill="#444" fill-opacity="0.22"/>
<rect x="71.0" y="349.2" width="0.9" height="0.9" fill="#444" fill-opacity="0.42"/>
<rect x="61.8" y="348.4" width="0.9" height="0.9" fill="#444" fill-opacity="0.17"/>
<rect x="57.8" y="350.9" width="0.9" height="0.9" fill="#444" fill-opacity="0.22"/>
<rect x="55.3" y="353.1" width="0.9" height="0.9" fill="#444" fill-opacity="0.23"/>
<rect x="68.6" y="343.8" width="0.9" height="0.9" fill="#444" fill-opacity="0.31"/>
<rect x="58.1" y="348.5" width="0.9" height="0.9" fill="#444" fill-opacity="0.16"/>
<rect x="60.2" y="350.9" width="0.9" height="0.9" fill="#444" fill-opacity="0.37"/>
<rect x="61.3" y="349.1" width="0.9" height="0.9" fill="#444" fill-opacity="0.32"/>
<text x="32" y="307.3" font-size="6.6" text-anchor="start" font-weight="normal" fill="#333" >36.1</text>
<text x="29.6" y="358.9" font-size="6.6" text-anchor="start" font-weight="normal" fill="#333" >163.5</text>
<text x="26.6" y="332.7" font-size="10" text-anchor="middle" font-weight="bold" fill="#111" transform="rotate(-90 26.6 332.7)" >GFP</text>
<text x="60.2" y="374" font-size="10" text-anchor="middle" font-weight="bold" fill="#111" >CD11c</text>
<line x1="83.5" y1="330.8" x2="96.5" y2="330.8" stroke="#000" stroke-width="3.0" />
<polygon points="95.5,326.3 102.5,330.8 95.5,335.3" fill="#000" stroke="none" />
<text x="135.7" y="296.3" font-size="10" text-anchor="middle" font-weight="bold" fill="#111" >RVGFP</text>
<text x="200.1" y="296.3" font-size="10" text-anchor="middle" font-weight="bold" fill="#111" >RVGFP-CD28</text>
<rect x="105.2" y="300.4" width="60.4" height="61" fill="none" stroke="#a8a8a8" stroke-width="0.9" />
<rect x="169.2" y="300.4" width="60.4" height="61" fill="none" stroke="#a8a8a8" stroke-width="0.9" />
<polygon points="105.7,361 105.7,312 107,306 109,310 110.5,304 112,307 113.5,303.5 115,306 116.5,304 118,308 119.5,312 121,318 122.5,326 124,336 125.5,346 127,354 128.5,358.5 130,360.5 130,361" fill="#c2c2c2" stroke="none" />
<polyline points="105.9,361 105.9,326.6 106.5,316.5 107.6,316.5 109.5,310.2 111.4,315.3 113.3,307.7 115.8,310.2 117.7,311.5 120.3,315.9 122.8,319 124.7,331.7 127.2,345.6 129.1,354.5 131.6,360.2 165,360.4" fill="none" stroke="#2f9a2f" stroke-width="1.0" stroke-linejoin="round" />
<polyline points="105.7,318 106.3,311.7 108,309 109.5,306 111,304 113,303.8 114.5,305 116,303.5 117.6,303.8 119,306 120.5,312 122.1,320.7 124.4,336.5 126.7,352.4 128.9,359.2 131,360.2 140,360.5" fill="none" stroke="#222" stroke-width="1.0" stroke-linejoin="round" />
<polygon points="169.7,361 169.7,330 170.5,322 171.5,315 172.5,324 173.5,312 174.5,318 175.5,307 176.5,316 177.5,305 178.7,304.9 180,310 181,318 182,309 183,316 184.5,322 186,318 187.5,326 189,330 190.5,338 192,346 193.5,354 194.5,360 195,361" fill="#c2c2c2" stroke="none" />
<polyline points="170.1,341.1 172,336 174.2,332 176.5,326 178.7,320.7 180.5,314 182.1,309.4 183.5,306 185,303.8 186,306 187,304.5 188,312 188.9,320.7 191.1,336.5 194.5,352.4 197.9,358 201,360 229,360" fill="none" stroke="#222" stroke-width="1.0" stroke-linejoin="round" />
<polyline points="169.7,360.2 199,358.5 202.4,354.6 205.8,347.9 209.2,343.3 211.5,338.8 213.8,329.8 216,316.2 217.1,309.4 219,304.9 220.5,308 222.1,304.4 223,310 223.9,318.5 225.7,334.3 228,345.6 229.3,350.1" fill="none" stroke="#2f9a2f" stroke-width="1.0" stroke-linejoin="round" />
<line x1="107" y1="360.6" x2="164" y2="360.6" stroke="#666" stroke-width="0.8" stroke-dasharray="3,4.5"/>
<line x1="171" y1="360.6" x2="228" y2="360.6" stroke="#666" stroke-width="0.8" stroke-dasharray="3,4.5"/>
<text x="162.9" y="309.4" font-size="8.3" text-anchor="end" font-weight="bold" fill="#111" >GFP-</text>
<text x="162.9" y="318" font-size="8.3" text-anchor="end" font-weight="bold" fill="#2f9a2f" >GFP+</text>
<text x="162.9" y="328.5" font-size="8.3" text-anchor="end" font-weight="bold" fill="#999" >Isotype</text>
<text x="136.8" y="373.9" font-size="10" text-anchor="middle" font-weight="bold" fill="#111" >CD28</text>
<text x="201.8" y="373.9" font-size="10" text-anchor="middle" font-weight="bold" fill="#111" >CD28</text>
<line x1="264.2" y1="301.1" x2="264.2" y2="348.2" stroke="#4a4a4a" stroke-width="1.0" />
<line x1="263.4" y1="348.2" x2="265" y2="348.2" stroke="#4a4a4a" stroke-width="1.0" />
<line x1="264.2" y1="352.8" x2="264.2" y2="368.4" stroke="#4a4a4a" stroke-width="1.0" />
<line x1="263.4" y1="352.8" x2="265" y2="352.8" stroke="#4a4a4a" stroke-width="1.0" />
<line x1="262.2" y1="301.1" x2="264.2" y2="301.1" stroke="#4a4a4a" stroke-width="1.0" />
<text x="261.6" y="303.5" font-size="6.7" text-anchor="end" font-weight="normal" fill="#4a4a4a" >75000</text>
<line x1="262.2" y1="321.2" x2="264.2" y2="321.2" stroke="#4a4a4a" stroke-width="1.0" />
<text x="261.6" y="323.6" font-size="6.7" text-anchor="end" font-weight="normal" fill="#4a4a4a" >60000</text>
<line x1="262.2" y1="340.8" x2="264.2" y2="340.8" stroke="#4a4a4a" stroke-width="1.0" />
<text x="261.6" y="343.2" font-size="6.7" text-anchor="end" font-weight="normal" fill="#4a4a4a" >45000</text>
<line x1="262.2" y1="355.6" x2="264.2" y2="355.6" stroke="#4a4a4a" stroke-width="1.0" />
<text x="261.6" y="358" font-size="6.7" text-anchor="end" font-weight="normal" fill="#4a4a4a" >2000</text>
<line x1="262.2" y1="368.4" x2="264.2" y2="368.4" stroke="#4a4a4a" stroke-width="1.0" />
<text x="261.6" y="370.8" font-size="6.7" text-anchor="end" font-weight="normal" fill="#4a4a4a" >0</text>
<line x1="264.2" y1="368.4" x2="308.5" y2="368.4" stroke="#4a4a4a" stroke-width="1.0" />
<line x1="276.1" y1="368.4" x2="276.1" y2="370.4" stroke="#4a4a4a" stroke-width="1.0" />
<line x1="298.9" y1="368.4" x2="298.9" y2="370.4" stroke="#4a4a4a" stroke-width="1.0" />
<rect x="268.1" y="366.2" width="16" height="2.2" fill="#0a3a0a" stroke="none" stroke-width="1.0" />
<rect x="291.4" y="316.6" width="15" height="31" fill="url(#hg)" stroke="#000" stroke-width="1.0" />
<rect x="291.4" y="353.4" width="15" height="14.8" fill="url(#hg)" stroke="#000" stroke-width="1.0" />
<line x1="265" y1="364.4" x2="309.5" y2="364.4" stroke="#d02020" stroke-width="0.8" stroke-dasharray="2,1.6"/>
<line x1="309.5" y1="362.5" x2="309.5" y2="366.3" stroke="#d02020" stroke-width="0.6" />
<text x="310.6" y="366.8" font-size="4.6" text-anchor="start" font-weight="normal" fill="#d02020" >Isotype</text>
<text x="293.1" y="296.5" font-size="10" text-anchor="middle" font-weight="bold" fill="#111" >CD28 MFI</text>
<text x="240" y="332" font-size="6.8" text-anchor="middle" font-weight="normal" fill="#4a4a4a" transform="rotate(-90 240 332)" >MFI</text>
<text x="277.3" y="375.2" font-size="7.2" text-anchor="end" font-weight="normal" fill="#2a2a2a" transform="rotate(-45 277.3 375.2)" >RVGFP</text>
<text x="300.1" y="375.2" font-size="7.2" text-anchor="end" font-weight="normal" fill="#2a2a2a" transform="rotate(-45 300.1 375.2)" >RVGFP-CD28</text>
<line x1="389.1" y1="301.7" x2="389.1" y2="368.9" stroke="#4a4a4a" stroke-width="1.0" />
<line x1="387.1" y1="368.9" x2="389.1" y2="368.9" stroke="#4a4a4a" stroke-width="1.0" />
<text x="386.4" y="371.35" font-size="6.8" text-anchor="end" font-weight="normal" fill="#4a4a4a" >0.0000</text>
<line x1="387.1" y1="355.46" x2="389.1" y2="355.46" stroke="#4a4a4a" stroke-width="1.0" />
<text x="386.4" y="357.91" font-size="6.8" text-anchor="end" font-weight="normal" fill="#4a4a4a" >0.0005</text>
<line x1="387.1" y1="342.02" x2="389.1" y2="342.02" stroke="#4a4a4a" stroke-width="1.0" />
<text x="386.4" y="344.47" font-size="6.8" text-anchor="end" font-weight="normal" fill="#4a4a4a" >0.0010</text>
<line x1="387.1" y1="328.58" x2="389.1" y2="328.58" stroke="#4a4a4a" stroke-width="1.0" />
<text x="386.4" y="331.03" font-size="6.8" text-anchor="end" font-weight="normal" fill="#4a4a4a" >0.0015</text>
<line x1="387.1" y1="315.14" x2="389.1" y2="315.14" stroke="#4a4a4a" stroke-width="1.0" />
<text x="386.4" y="317.59" font-size="6.8" text-anchor="end" font-weight="normal" fill="#4a4a4a" >0.0020</text>
<line x1="387.1" y1="301.7" x2="389.1" y2="301.7" stroke="#4a4a4a" stroke-width="1.0" />
<text x="386.4" y="304.15" font-size="6.8" text-anchor="end" font-weight="normal" fill="#4a4a4a" >0.0025</text>
<line x1="389.1" y1="368.9" x2="434.6" y2="368.9" stroke="#4a4a4a" stroke-width="1.0" />
<line x1="400.7" y1="368.9" x2="400.7" y2="370.9" stroke="#4a4a4a" stroke-width="1.0" />
<line x1="423.15" y1="368.9" x2="423.15" y2="370.9" stroke="#4a4a4a" stroke-width="1.0" />
<rect x="393.6" y="313.6" width="14.2" height="55.3" fill="#075a07" stroke="#000" stroke-width="1.0" />
<rect x="415.9" y="348.6" width="14.5" height="20.3" fill="url(#hg)" stroke="#000" stroke-width="1.0" />
<line x1="400.7" y1="313.1" x2="400.7" y2="310.3" stroke="#777" stroke-width="0.9" />
<line x1="397.45" y1="310.3" x2="403.95" y2="310.3" stroke="#777" stroke-width="0.9" />
<line x1="423.15" y1="348.1" x2="423.15" y2="347.6" stroke="#777" stroke-width="0.9" />
<line x1="419.9" y1="347.6" x2="426.4" y2="347.6" stroke="#777" stroke-width="0.9" />
<text x="423.2" y="344" font-size="8.0" text-anchor="middle" font-weight="normal" fill="#333" letter-spacing="0">***</text>
<text x="411.6" y="296.8" font-size="9.8" text-anchor="middle" font-weight="bold" fill="#111" font-style="italic" >Ifnα</text>
<text x="362.7" y="334" font-size="6.6" text-anchor="middle" font-weight="normal" fill="#4a4a4a" transform="rotate(-90 362.7 334)" >relative change over&#160; <tspan font-style="italic">Gapdh</tspan></text>
<text x="402.1" y="375.4" font-size="7.2" text-anchor="end" font-weight="normal" fill="#2a2a2a" transform="rotate(-45 402.1 375.4)" >RVGFP</text>
<text x="424.55" y="375.4" font-size="7.2" text-anchor="end" font-weight="normal" fill="#2a2a2a" transform="rotate(-45 424.55 375.4)" >RVGFP-CD28</text>
<line x1="465.7" y1="301.7" x2="465.7" y2="368.2" stroke="#4a4a4a" stroke-width="1.0" />
<line x1="463.7" y1="368.2" x2="465.7" y2="368.2" stroke="#4a4a4a" stroke-width="1.0" />
<text x="462.8" y="370.72" font-size="7.0" text-anchor="end" font-weight="normal" fill="#4a4a4a" >0.0</text>
<line x1="463.7" y1="351.57" x2="465.7" y2="351.57" stroke="#4a4a4a" stroke-width="1.0" />
<text x="462.8" y="354.09" font-size="7.0" text-anchor="end" font-weight="normal" fill="#4a4a4a" >0.1</text>
<line x1="463.7" y1="334.95" x2="465.7" y2="334.95" stroke="#4a4a4a" stroke-width="1.0" />
<text x="462.8" y="337.47" font-size="7.0" text-anchor="end" font-weight="normal" fill="#4a4a4a" >0.2</text>
<line x1="463.7" y1="318.32" x2="465.7" y2="318.32" stroke="#4a4a4a" stroke-width="1.0" />
<text x="462.8" y="320.84" font-size="7.0" text-anchor="end" font-weight="normal" fill="#4a4a4a" >0.3</text>
<line x1="463.7" y1="301.7" x2="465.7" y2="301.7" stroke="#4a4a4a" stroke-width="1.0" />
<text x="462.8" y="304.22" font-size="7.0" text-anchor="end" font-weight="normal" fill="#4a4a4a" >0.4</text>
<line x1="465.7" y1="368.2" x2="510.8" y2="368.2" stroke="#4a4a4a" stroke-width="1.0" />
<line x1="477.05" y1="368.2" x2="477.05" y2="370.2" stroke="#4a4a4a" stroke-width="1.0" />
<line x1="499.65" y1="368.2" x2="499.65" y2="370.2" stroke="#4a4a4a" stroke-width="1.0" />
<rect x="469.7" y="324.6" width="14.7" height="43.6" fill="#0a7a0a" stroke="#000" stroke-width="1.0" />
<rect x="492.5" y="317.5" width="14.3" height="50.7" fill="url(#hg)" stroke="#000" stroke-width="1.0" />
<line x1="477.05" y1="324.1" x2="477.05" y2="319" stroke="#777" stroke-width="0.9" />
<line x1="473.8" y1="319" x2="480.3" y2="319" stroke="#777" stroke-width="0.9" />
<line x1="499.65" y1="317" x2="499.65" y2="316.6" stroke="#777" stroke-width="0.9" />
<line x1="496.4" y1="316.6" x2="502.9" y2="316.6" stroke="#777" stroke-width="0.9" />
<text x="489.9" y="296.8" font-size="9.8" text-anchor="middle" font-weight="bold" fill="#111" font-style="italic" >Tnfα</text>
<text x="451" y="334" font-size="6.6" text-anchor="middle" font-weight="normal" fill="#4a4a4a" transform="rotate(-90 451 334)" >relative change over&#160; <tspan font-style="italic">Gapdh</tspan></text>
<text x="478.45" y="374.7" font-size="7.2" text-anchor="end" font-weight="normal" fill="#2a2a2a" transform="rotate(-45 478.45 374.7)" >RVGFP</text>
<text x="501.05" y="374.7" font-size="7.2" text-anchor="end" font-weight="normal" fill="#2a2a2a" transform="rotate(-45 501.05 374.7)" >RVGFP-CD28</text>
<line x1="550.3" y1="301.7" x2="550.3" y2="368.2" stroke="#4a4a4a" stroke-width="1.0" />
<line x1="548.3" y1="368.2" x2="550.3" y2="368.2" stroke="#4a4a4a" stroke-width="1.0" />
<text x="547.3" y="370.65" font-size="6.8" text-anchor="end" font-weight="normal" fill="#4a4a4a" >0.00</text>
<line x1="548.3" y1="351.57" x2="550.3" y2="351.57" stroke="#4a4a4a" stroke-width="1.0" />
<text x="547.3" y="354.02" font-size="6.8" text-anchor="end" font-weight="normal" fill="#4a4a4a" >0.01</text>
<line x1="548.3" y1="334.95" x2="550.3" y2="334.95" stroke="#4a4a4a" stroke-width="1.0" />
<text x="547.3" y="337.4" font-size="6.8" text-anchor="end" font-weight="normal" fill="#4a4a4a" >0.02</text>
<line x1="548.3" y1="318.32" x2="550.3" y2="318.32" stroke="#4a4a4a" stroke-width="1.0" />
<text x="547.3" y="320.77" font-size="6.8" text-anchor="end" font-weight="normal" fill="#4a4a4a" >0.03</text>
<line x1="548.3" y1="301.7" x2="550.3" y2="301.7" stroke="#4a4a4a" stroke-width="1.0" />
<text x="547.3" y="304.15" font-size="6.8" text-anchor="end" font-weight="normal" fill="#4a4a4a" >0.04</text>
<line x1="550.3" y1="368.2" x2="594.7" y2="368.2" stroke="#4a4a4a" stroke-width="1.0" />
<line x1="560.75" y1="368.2" x2="560.75" y2="370.2" stroke="#4a4a4a" stroke-width="1.0" />
<line x1="583.45" y1="368.2" x2="583.45" y2="370.2" stroke="#4a4a4a" stroke-width="1.0" />
<rect x="553.3" y="315.8" width="14.9" height="52.4" fill="#0a7a0a" stroke="#000" stroke-width="1.0" />
<rect x="576.4" y="323.9" width="14.1" height="44.3" fill="url(#hg)" stroke="#000" stroke-width="1.0" />
<line x1="560.75" y1="315.3" x2="560.75" y2="315" stroke="#777" stroke-width="0.9" />
<line x1="557.5" y1="315" x2="564" y2="315" stroke="#777" stroke-width="0.9" />
<line x1="583.45" y1="323.4" x2="583.45" y2="318.2" stroke="#777" stroke-width="0.9" />
<line x1="580.2" y1="318.2" x2="586.7" y2="318.2" stroke="#777" stroke-width="0.9" />
<text x="574.5" y="296.8" font-size="9.8" text-anchor="middle" font-weight="bold" fill="#111" font-style="italic" >Il6</text>
<text x="530.7" y="334" font-size="6.6" text-anchor="middle" font-weight="normal" fill="#4a4a4a" transform="rotate(-90 530.7 334)" >relative change over&#160; <tspan font-style="italic">Gapdh</tspan></text>
<text x="562.15" y="374.7" font-size="7.2" text-anchor="end" font-weight="normal" fill="#2a2a2a" transform="rotate(-45 562.15 374.7)" >RVGFP</text>
<text x="584.85" y="374.7" font-size="7.2" text-anchor="end" font-weight="normal" fill="#2a2a2a" transform="rotate(-45 584.85 374.7)" >RVGFP-CD28</text>
<line x1="74.5" y1="446.1" x2="74.5" y2="514.4" stroke="#4a4a4a" stroke-width="1.0" />
<line x1="72.5" y1="514.4" x2="74.5" y2="514.4" stroke="#4a4a4a" stroke-width="1.0" />
<text x="71.7" y="516.81" font-size="6.7" text-anchor="end" font-weight="normal" fill="#4a4a4a" >0</text>
<line x1="72.5" y1="491.2" x2="74.5" y2="491.2" stroke="#4a4a4a" stroke-width="1.0" />
<text x="71.7" y="493.61" font-size="6.7" text-anchor="end" font-weight="normal" fill="#4a4a4a" >50</text>
<line x1="72.5" y1="467.8" x2="74.5" y2="467.8" stroke="#4a4a4a" stroke-width="1.0" />
<text x="71.7" y="470.21" font-size="6.7" text-anchor="end" font-weight="normal" fill="#4a4a4a" >100</text>
<line x1="72.5" y1="446.1" x2="74.5" y2="446.1" stroke="#4a4a4a" stroke-width="1.0" />
<text x="71.7" y="448.51" font-size="6.7" text-anchor="end" font-weight="normal" fill="#4a4a4a" >150</text>
<line x1="74.5" y1="514.4" x2="141.3" y2="514.4" stroke="#4a4a4a" stroke-width="1.0" />
<line x1="86.8" y1="514.4" x2="86.8" y2="516.4" stroke="#4a4a4a" stroke-width="1.0" />
<line x1="109" y1="514.4" x2="109" y2="516.4" stroke="#4a4a4a" stroke-width="1.0" />
<line x1="131.6" y1="514.4" x2="131.6" y2="516.4" stroke="#4a4a4a" stroke-width="1.0" />
<rect x="79.3" y="513.3" width="5.4" height="1.1" fill="#000" stroke="none" stroke-width="1.0" />
<rect x="87.5" y="513.3" width="5.5" height="1.1" fill="#444" stroke="none" stroke-width="1.0" />
<rect x="102" y="482.2" width="6.2" height="32.2" fill="#000" stroke="none" stroke-width="1.0" />
<rect x="110.7" y="470" width="5.7" height="44.4" fill="url(#hb)" stroke="#000" stroke-width="1.0" />
<rect x="125.2" y="506.1" width="6.1" height="8.3" fill="#000" stroke="none" stroke-width="1.0" />
<rect x="133.5" y="484.6" width="5.7" height="29.8" fill="url(#hb)" stroke="#000" stroke-width="1.0" />
<line x1="105.1" y1="482.2" x2="105.1" y2="480.3" stroke="#000" stroke-width="0.8" />
<line x1="103.85" y1="480.3" x2="106.35" y2="480.3" stroke="#000" stroke-width="0.8" />
<line x1="136.4" y1="484.1" x2="136.4" y2="482" stroke="#000" stroke-width="0.8" />
<line x1="135.15" y1="482" x2="137.65" y2="482" stroke="#000" stroke-width="0.8" />
<line x1="113.5" y1="469.5" x2="113.5" y2="469" stroke="#000" stroke-width="0.8" />
<line x1="112.25" y1="469" x2="114.75" y2="469" stroke="#000" stroke-width="0.8" />
<text x="113.4" y="470" font-size="8.0" text-anchor="middle" font-weight="normal" fill="#333" letter-spacing="0">***</text>
<text x="136.2" y="482.6" font-size="8.0" text-anchor="middle" font-weight="normal" fill="#333" letter-spacing="0">***</text>
<text x="103.4" y="430.9" font-size="10.1" text-anchor="middle" font-weight="bold" fill="#111" >Flt3L-BMpDC IFN-I</text>
<rect x="78.9" y="446.2" width="7.6" height="5.4" fill="#000" stroke="none" stroke-width="1.0" />
<rect x="79.4" y="454.9" width="6.6" height="4.4" fill="url(#hb)" stroke="#000" stroke-width="1" />
<text x="90.6" y="451.6" font-size="6.8" text-anchor="start" font-weight="normal" fill="#4a4a4a" >WT</text>
<text x="90.6" y="459.8" font-size="6.8" text-anchor="start" font-weight="normal" fill="#4a4a4a" >CD80/86ko</text>
<text x="56.4" y="478.7" font-size="6.8" text-anchor="middle" font-weight="normal" fill="#777" transform="rotate(-90 56.4 478.7)" >IFN-I (U/mL)</text>
<text x="88" y="521" font-size="7.4" text-anchor="end" font-weight="normal" fill="#2a2a2a" transform="rotate(-45 88 521)" >Media</text>
<text x="110.2" y="521" font-size="7.4" text-anchor="end" font-weight="normal" fill="#2a2a2a" transform="rotate(-45 110.2 521)" >Loxoribine</text>
<text x="132.8" y="521" font-size="7.4" text-anchor="end" font-weight="normal" fill="#2a2a2a" transform="rotate(-45 132.8 521)" >CpG B</text>
</svg></body></html>
